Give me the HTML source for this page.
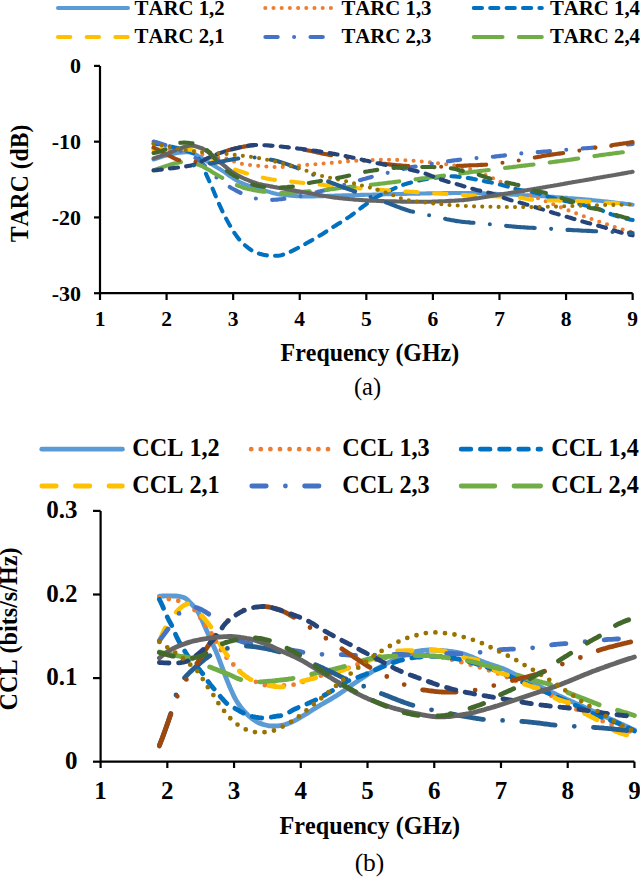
<!DOCTYPE html>
<html><head><meta charset="utf-8"><title>TARC / CCL</title>
<style>html,body{margin:0;padding:0;background:#fff;}body{width:640px;height:877px;overflow:hidden;font-family:"Liberation Serif",serif;}svg{display:block;}</style>
</head><body>
<svg width="640" height="877" viewBox="0 0 640 877">
<rect width="640" height="877" fill="#fff"/>
<g fill="none" stroke-linecap="round" stroke-linejoin="round">
<path d="M58.0 8.0 H128.0" stroke="#5B9BD5" stroke-width="4.10"/>
<path d="M265.3 8.0 H332.0" stroke="#ED7D31" stroke-width="4.10" stroke-dasharray="0 8.20"/>
<path d="M473.8 8.0 H541.8" stroke="#0070C0" stroke-width="4.10" stroke-dasharray="8.20 8.20"/>
<path d="M58.0 37.0 H128.0" stroke="#FFC000" stroke-width="4.10" stroke-dasharray="12.30 16.40"/>
<path d="M265.4 37.0 H332.0" stroke="#4472C4" stroke-width="4.10" stroke-dasharray="12.30 16.40 0 16.40"/>
<path d="M473.8 37.0 H541.8" stroke="#70AD47" stroke-width="4.10" stroke-dasharray="28.70 16.40"/>
<path d="M41.8 449.2 H122.4" stroke="#5B9BD5" stroke-width="4.80"/>
<path d="M251.2 449.2 H329.6" stroke="#ED7D31" stroke-width="4.80" stroke-dasharray="0 9.60"/>
<path d="M461.2 449.2 H540.6" stroke="#0070C0" stroke-width="4.80" stroke-dasharray="9.60 9.60"/>
<path d="M41.8 486.0 H122.4" stroke="#FFC000" stroke-width="4.80" stroke-dasharray="14.40 19.20"/>
<path d="M251.8 486.0 H328.6" stroke="#4472C4" stroke-width="4.80" stroke-dasharray="14.40 19.20 0 19.20"/>
<path d="M461.2 486.0 H540.6" stroke="#70AD47" stroke-width="4.80" stroke-dasharray="33.60 19.20"/>
</g>
<g fill="none" stroke="#000" stroke-width="2.2" stroke-linejoin="miter" stroke-linecap="butt"><path d="M100 65.9 V293.2 H632.6" /><path d="M94 65.90 H100"/><path d="M94 141.67 H100"/><path d="M94 217.44 H100"/><path d="M94 293.21 H100"/><path d="M100.00 293.2 V300"/><path d="M166.58 293.2 V300"/><path d="M233.16 293.2 V300"/><path d="M299.74 293.2 V300"/><path d="M366.32 293.2 V300"/><path d="M432.90 293.2 V300"/><path d="M499.48 293.2 V300"/><path d="M566.06 293.2 V300"/><path d="M632.64 293.2 V300"/><path d="M100.6 510.9 V761.7 H634.4" /><path d="M93 510.90 H100.6"/><path d="M93 594.50 H100.6"/><path d="M93 678.10 H100.6"/><path d="M93 761.70 H100.6"/><path d="M100.60 761.7 V768"/><path d="M167.33 761.7 V768"/><path d="M234.06 761.7 V768"/><path d="M300.79 761.7 V768"/><path d="M367.52 761.7 V768"/><path d="M434.25 761.7 V768"/><path d="M500.98 761.7 V768"/><path d="M567.71 761.7 V768"/><path d="M634.44 761.7 V768"/></g>
<g fill="none" stroke-linecap="round" stroke-linejoin="round">
<path d="M153.6 159.5 L155.1 159.0 L156.6 158.5 L158.1 158.0 L159.6 157.5 L161.1 157.0 L162.6 156.6 L164.1 156.1 L165.6 155.7 L167.1 155.3 L168.6 154.9 L170.1 154.5 L171.6 154.2 L173.1 153.9 L174.6 153.6 L176.1 153.3 L177.6 153.0 L179.1 152.8 L180.6 152.6 L182.1 152.5 L183.6 152.4 L185.1 152.3 L186.6 152.3 L188.1 152.3 L189.6 152.5 L191.1 152.7 L192.6 153.1 L194.1 153.7 L195.6 154.5 L197.1 155.3 L198.6 156.2 L200.1 157.0 L201.7 157.9 L203.2 158.8 L204.7 159.7 L206.2 160.7 L207.7 161.7 L209.2 162.7 L210.7 163.7 L212.2 164.6 L213.7 165.5 L215.2 166.4 L216.7 167.3 L218.2 168.2 L219.7 169.1 L221.2 170.0 L222.7 170.9 L224.2 171.9 L225.7 173.0 L227.2 174.1 L228.7 175.3 L230.2 176.4 L231.7 177.4 L233.2 178.4 L234.7 179.3 L236.2 180.2 L237.7 181.0 L239.2 181.8 L240.7 182.5 L242.2 183.2 L243.7 183.8 L245.2 184.4 L246.7 184.9 L248.2 185.4 L249.7 185.9 L251.2 186.4 L252.7 186.9 L254.2 187.3 L255.7 187.8 L257.2 188.2 L258.7 188.6 L260.2 189.1 L261.7 189.5 L263.2 190.0 L264.7 190.5 L266.2 191.0 L267.7 191.4 L269.2 191.9 L270.7 192.4 L272.2 192.8 L273.7 193.3 L275.2 193.6 L276.7 194.0 L278.2 194.2 L279.7 194.5 L281.2 194.6 L282.7 194.8 L284.2 195.0 L285.7 195.2 L287.2 195.3 L288.7 195.5 L290.2 195.6 L291.7 195.8 L293.2 195.9 L294.7 196.0 L296.2 196.1 L297.8 196.2 L299.3 196.3 L300.8 196.4 L302.3 196.5 L303.8 196.5 L305.3 196.5 L306.8 196.5 L308.3 196.5 L309.8 196.5 L311.3 196.5 L312.8 196.4 L314.3 196.4 L315.8 196.3 L317.3 196.3 L318.8 196.2 L320.3 196.2 L321.8 196.1 L323.3 196.1 L324.8 196.0 L326.3 196.0 L327.8 195.9 L329.3 195.8 L330.8 195.8 L332.3 195.7 L333.8 195.7 L335.3 195.6 L336.8 195.6 L338.3 195.5 L339.8 195.5 L341.3 195.5 L342.8 195.4 L344.3 195.4 L345.8 195.3 L347.3 195.3 L348.8 195.3 L350.3 195.2 L351.8 195.2 L353.3 195.1 L354.8 195.1 L356.3 195.1 L357.8 195.0 L359.3 195.0 L360.8 194.9 L362.3 194.9 L363.8 194.9 L365.3 194.8 L366.8 194.8 L368.3 194.8 L369.8 194.7 L371.3 194.7 L372.8 194.6 L374.3 194.6 L375.8 194.6 L377.3 194.5 L378.8 194.5 L380.3 194.5 L381.8 194.4 L383.3 194.4 L384.8 194.3 L386.3 194.3 L387.8 194.3 L389.3 194.2 L390.8 194.2 L392.3 194.2 L393.9 194.1 L395.4 194.1 L396.9 194.1 L398.4 194.0 L399.9 194.0 L401.4 194.0 L402.9 193.9 L404.4 193.9 L405.9 193.9 L407.4 193.8 L408.9 193.8 L410.4 193.8 L411.9 193.7 L413.4 193.7 L414.9 193.7 L416.4 193.6 L417.9 193.6 L419.4 193.6 L420.9 193.5 L422.4 193.5 L423.9 193.5 L425.4 193.5 L426.9 193.4 L428.4 193.4 L429.9 193.4 L431.4 193.3 L432.9 193.3 L434.4 193.3 L435.9 193.3 L437.4 193.2 L438.9 193.2 L440.4 193.2 L441.9 193.2 L443.4 193.1 L444.9 193.1 L446.4 193.1 L447.9 193.1 L449.4 193.1 L450.9 193.1 L452.4 193.0 L453.9 193.0 L455.4 193.0 L456.9 193.0 L458.4 193.0 L459.9 193.0 L461.4 193.0 L462.9 193.0 L464.4 193.0 L465.9 193.0 L467.4 193.0 L468.9 193.0 L470.4 193.1 L471.9 193.1 L473.4 193.1 L474.9 193.2 L476.4 193.2 L477.9 193.2 L479.4 193.3 L480.9 193.3 L482.4 193.4 L483.9 193.4 L485.4 193.5 L486.9 193.5 L488.4 193.6 L490.0 193.6 L491.5 193.7 L493.0 193.8 L494.5 193.8 L496.0 193.9 L497.5 194.0 L499.0 194.0 L500.5 194.1 L502.0 194.2 L503.5 194.2 L505.0 194.3 L506.5 194.4 L508.0 194.4 L509.5 194.5 L511.0 194.6 L512.5 194.7 L514.0 194.7 L515.5 194.8 L517.0 194.9 L518.5 194.9 L520.0 195.0 L521.5 195.1 L523.0 195.1 L524.5 195.2 L526.0 195.3 L527.5 195.4 L529.0 195.4 L530.5 195.5 L532.0 195.6 L533.5 195.7 L535.0 195.8 L536.5 195.9 L538.0 195.9 L539.5 196.0 L541.0 196.1 L542.5 196.2 L544.0 196.3 L545.5 196.4 L547.0 196.5 L548.5 196.6 L550.0 196.7 L551.5 196.8 L553.0 196.9 L554.5 197.0 L556.0 197.2 L557.5 197.3 L559.0 197.4 L560.5 197.5 L562.0 197.6 L563.5 197.7 L565.0 197.8 L566.5 197.9 L568.0 198.1 L569.5 198.2 L571.0 198.3 L572.5 198.4 L574.0 198.5 L575.5 198.6 L577.0 198.8 L578.5 198.9 L580.0 199.0 L581.5 199.1 L583.0 199.3 L584.5 199.4 L586.1 199.5 L587.6 199.6 L589.1 199.8 L590.6 199.9 L592.1 200.1 L593.6 200.2 L595.1 200.4 L596.6 200.5 L598.1 200.7 L599.6 200.8 L601.1 201.0 L602.6 201.2 L604.1 201.3 L605.6 201.5 L607.1 201.6 L608.6 201.8 L610.1 202.0 L611.6 202.2 L613.1 202.3 L614.6 202.5 L616.1 202.7 L617.6 202.9 L619.1 203.0 L620.6 203.2 L622.1 203.4 L623.6 203.6 L625.1 203.8 L626.6 204.0 L628.1 204.1 L629.6 204.3 L631.1 204.5 L632.6 204.7" stroke="#5B9BD5" stroke-width="4.10"/>
<path d="M153.6 148.5 L155.1 148.5 L156.6 148.6 L158.1 148.7 L159.6 148.8 L161.1 148.9 L162.6 149.0 L164.1 149.1 L165.6 149.2 L167.1 149.3 L168.6 149.4 L170.1 149.6 L171.6 149.7 L173.1 149.8 L174.6 150.0 L176.1 150.1 L177.6 150.2 L179.1 150.4 L180.6 150.6 L182.1 150.7 L183.6 150.9 L185.1 151.1 L186.6 151.3 L188.1 151.6 L189.6 151.8 L191.1 152.0 L192.6 152.3 L194.1 152.5 L195.6 152.8 L197.1 153.0 L198.6 153.3 L200.1 153.7 L201.7 154.1 L203.2 154.6 L204.7 155.0 L206.2 155.5 L207.7 155.9 L209.2 156.3 L210.7 156.7 L212.2 157.0 L213.7 157.3 L215.2 157.4 L216.7 157.5 L218.2 157.6 L219.7 157.6 L221.2 157.7 L222.7 157.8 L224.2 158.0 L225.7 158.4 L227.2 158.8 L228.7 159.3 L230.2 159.9 L231.7 160.5 L233.2 161.2 L234.7 161.8 L236.2 162.4 L237.7 162.9 L239.2 163.3 L240.7 163.6 L242.2 163.9 L243.7 164.1 L245.2 164.4 L246.7 164.6 L248.2 164.8 L249.7 165.0 L251.2 165.2 L252.7 165.4 L254.2 165.5 L255.7 165.7 L257.2 165.8 L258.7 165.9 L260.2 166.0 L261.7 166.1 L263.2 166.2 L264.7 166.4 L266.2 166.5 L267.7 166.6 L269.2 166.7 L270.7 166.8 L272.2 166.9 L273.7 166.9 L275.2 167.0 L276.7 167.0 L278.2 167.0 L279.7 167.0 L281.2 167.0 L282.7 166.9 L284.2 166.8 L285.7 166.7 L287.2 166.6 L288.7 166.5 L290.2 166.4 L291.7 166.2 L293.2 166.1 L294.7 166.0 L296.2 165.8 L297.8 165.7 L299.3 165.6 L300.8 165.4 L302.3 165.3 L303.8 165.2 L305.3 165.1 L306.8 164.9 L308.3 164.8 L309.8 164.7 L311.3 164.6 L312.8 164.4 L314.3 164.3 L315.8 164.2 L317.3 164.1 L318.8 163.9 L320.3 163.8 L321.8 163.7 L323.3 163.6 L324.8 163.4 L326.3 163.3 L327.8 163.2 L329.3 163.1 L330.8 162.9 L332.3 162.8 L333.8 162.7 L335.3 162.5 L336.8 162.4 L338.3 162.3 L339.8 162.1 L341.3 162.0 L342.8 161.8 L344.3 161.7 L345.8 161.6 L347.3 161.4 L348.8 161.3 L350.3 161.2 L351.8 161.1 L353.3 160.9 L354.8 160.8 L356.3 160.7 L357.8 160.6 L359.3 160.5 L360.8 160.5 L362.3 160.4 L363.8 160.3 L365.3 160.2 L366.8 160.2 L368.3 160.1 L369.8 160.1 L371.3 160.0 L372.8 160.0 L374.3 159.9 L375.8 159.9 L377.3 159.9 L378.8 159.8 L380.3 159.8 L381.8 159.8 L383.3 159.8 L384.8 159.8 L386.3 159.8 L387.8 159.8 L389.3 159.8 L390.8 159.8 L392.3 159.8 L393.9 159.9 L395.4 159.9 L396.9 159.9 L398.4 160.0 L399.9 160.0 L401.4 160.0 L402.9 160.1 L404.4 160.2 L405.9 160.2 L407.4 160.3 L408.9 160.4 L410.4 160.5 L411.9 160.6 L413.4 160.8 L414.9 160.9 L416.4 161.0 L417.9 161.2 L419.4 161.3 L420.9 161.5 L422.4 161.6 L423.9 161.8 L425.4 161.9 L426.9 162.1 L428.4 162.3 L429.9 162.4 L431.4 162.6 L432.9 162.7 L434.4 162.9 L435.9 163.1 L437.4 163.2 L438.9 163.4 L440.4 163.5 L441.9 163.7 L443.4 163.9 L444.9 164.1 L446.4 164.2 L447.9 164.5 L449.4 164.7 L450.9 164.9 L452.4 165.1 L453.9 165.4 L455.4 165.6 L456.9 165.9 L458.4 166.2 L459.9 166.5 L461.4 166.8 L462.9 167.2 L464.4 167.5 L465.9 168.0 L467.4 168.4 L468.9 168.9 L470.4 169.4 L471.9 169.9 L473.4 170.4 L474.9 171.0 L476.4 171.5 L477.9 172.1 L479.4 172.7 L480.9 173.3 L482.4 173.9 L483.9 174.5 L485.4 175.1 L486.9 175.8 L488.4 176.4 L490.0 177.0 L491.5 177.6 L493.0 178.2 L494.5 178.9 L496.0 179.6 L497.5 180.3 L499.0 181.0 L500.5 181.7 L502.0 182.4 L503.5 183.2 L505.0 183.9 L506.5 184.6 L508.0 185.4 L509.5 186.1 L511.0 186.8 L512.5 187.6 L514.0 188.3 L515.5 189.0 L517.0 189.7 L518.5 190.3 L520.0 191.0 L521.5 191.6 L523.0 192.3 L524.5 192.9 L526.0 193.5 L527.5 194.1 L529.0 194.7 L530.5 195.3 L532.0 195.9 L533.5 196.5 L535.0 197.1 L536.5 197.7 L538.0 198.3 L539.5 198.9 L541.0 199.5 L542.5 200.1 L544.0 200.7 L545.5 201.2 L547.0 201.8 L548.5 202.4 L550.0 203.0 L551.5 203.6 L553.0 204.2 L554.5 204.8 L556.0 205.4 L557.5 206.0 L559.0 206.6 L560.5 207.2 L562.0 207.8 L563.5 208.4 L565.0 209.0 L566.5 209.6 L568.0 210.2 L569.5 210.8 L571.0 211.3 L572.5 211.9 L574.0 212.5 L575.5 213.1 L577.0 213.7 L578.5 214.3 L580.0 214.8 L581.5 215.4 L583.0 216.0 L584.5 216.5 L586.1 217.1 L587.6 217.6 L589.1 218.2 L590.6 218.7 L592.1 219.2 L593.6 219.8 L595.1 220.3 L596.6 220.8 L598.1 221.3 L599.6 221.9 L601.1 222.4 L602.6 222.9 L604.1 223.4 L605.6 223.9 L607.1 224.4 L608.6 224.9 L610.1 225.4 L611.6 225.9 L613.1 226.4 L614.6 226.9 L616.1 227.4 L617.6 227.9 L619.1 228.4 L620.6 228.8 L622.1 229.3 L623.6 229.8 L625.1 230.2 L626.6 230.7 L628.1 231.2 L629.6 231.6 L631.1 232.1 L632.6 232.5" stroke="#ED7D31" stroke-width="4.10" stroke-dasharray="0 8.20"/>
<path d="M153.6 143.5 L155.1 143.7 L156.6 143.9 L158.1 144.1 L159.6 144.3 L161.1 144.6 L162.6 144.9 L164.1 145.2 L165.6 145.5 L167.1 145.8 L168.6 146.1 L170.1 146.5 L171.6 146.8 L173.1 147.1 L174.6 147.4 L176.1 147.7 L177.6 148.1 L179.1 148.4 L180.6 148.8 L182.1 149.3 L183.6 149.7 L185.1 150.2 L186.6 150.7 L188.1 151.2 L189.6 151.7 L191.1 152.3 L192.6 152.9 L194.1 153.6 L195.6 154.8 L197.1 156.5 L198.6 158.4 L200.1 160.7 L201.7 163.2 L203.2 166.7 L204.7 170.6 L206.2 174.4 L207.7 177.7 L209.2 181.0 L210.7 184.3 L212.2 187.7 L213.7 191.2 L215.2 194.9 L216.7 198.5 L218.2 202.1 L219.7 205.4 L221.2 208.7 L222.7 211.8 L224.2 214.8 L225.7 217.8 L227.2 220.6 L228.7 223.4 L230.2 226.1 L231.7 228.7 L233.2 231.1 L234.7 233.3 L236.2 235.4 L237.7 237.4 L239.2 239.4 L240.7 241.2 L242.2 242.8 L243.7 244.2 L245.2 245.5 L246.7 246.7 L248.2 247.9 L249.7 249.0 L251.2 250.1 L252.7 251.0 L254.2 251.9 L255.7 252.6 L257.2 253.1 L258.7 253.5 L260.2 253.9 L261.7 254.3 L263.2 254.7 L264.7 255.0 L266.2 255.3 L267.7 255.5 L269.2 255.6 L270.7 255.7 L272.2 255.8 L273.7 255.8 L275.2 255.8 L276.7 255.8 L278.2 255.7 L279.7 255.5 L281.2 255.2 L282.7 254.8 L284.2 254.2 L285.7 253.7 L287.2 253.0 L288.7 252.4 L290.2 251.8 L291.7 251.1 L293.2 250.4 L294.7 249.6 L296.2 248.8 L297.8 248.0 L299.3 247.2 L300.8 246.3 L302.3 245.5 L303.8 244.7 L305.3 243.9 L306.8 243.0 L308.3 242.2 L309.8 241.4 L311.3 240.6 L312.8 239.7 L314.3 238.9 L315.8 238.0 L317.3 237.1 L318.8 236.2 L320.3 235.3 L321.8 234.4 L323.3 233.5 L324.8 232.5 L326.3 231.5 L327.8 230.6 L329.3 229.6 L330.8 228.6 L332.3 227.6 L333.8 226.6 L335.3 225.7 L336.8 224.7 L338.3 223.8 L339.8 222.9 L341.3 222.0 L342.8 221.0 L344.3 220.1 L345.8 219.1 L347.3 218.1 L348.8 217.1 L350.3 216.1 L351.8 215.0 L353.3 213.9 L354.8 212.7 L356.3 211.6 L357.8 210.4 L359.3 209.3 L360.8 208.1 L362.3 207.0 L363.8 205.9 L365.3 204.8 L366.8 203.6 L368.3 202.5 L369.8 201.4 L371.3 200.4 L372.8 199.3 L374.3 198.4 L375.8 197.5 L377.3 196.7 L378.8 195.9 L380.3 195.1 L381.8 194.4 L383.3 193.6 L384.8 192.9 L386.3 192.2 L387.8 191.5 L389.3 190.8 L390.8 190.1 L392.3 189.4 L393.9 188.7 L395.4 188.0 L396.9 187.3 L398.4 186.6 L399.9 186.0 L401.4 185.4 L402.9 184.9 L404.4 184.4 L405.9 183.9 L407.4 183.5 L408.9 183.1 L410.4 182.7 L411.9 182.3 L413.4 181.9 L414.9 181.5 L416.4 181.1 L417.9 180.8 L419.4 180.4 L420.9 180.1 L422.4 179.8 L423.9 179.5 L425.4 179.2 L426.9 179.0 L428.4 178.7 L429.9 178.5 L431.4 178.3 L432.9 178.1 L434.4 177.9 L435.9 177.7 L437.4 177.5 L438.9 177.2 L440.4 177.1 L441.9 176.9 L443.4 176.7 L444.9 176.6 L446.4 176.5 L447.9 176.4 L449.4 176.3 L450.9 176.3 L452.4 176.3 L453.9 176.4 L455.4 176.4 L456.9 176.6 L458.4 176.7 L459.9 176.9 L461.4 177.1 L462.9 177.3 L464.4 177.5 L465.9 177.7 L467.4 177.9 L468.9 178.1 L470.4 178.4 L471.9 178.6 L473.4 178.9 L474.9 179.2 L476.4 179.5 L477.9 179.8 L479.4 180.1 L480.9 180.4 L482.4 180.8 L483.9 181.1 L485.4 181.4 L486.9 181.7 L488.4 182.0 L490.0 182.3 L491.5 182.6 L493.0 182.9 L494.5 183.3 L496.0 183.6 L497.5 183.9 L499.0 184.3 L500.5 184.6 L502.0 185.0 L503.5 185.4 L505.0 185.8 L506.5 186.2 L508.0 186.7 L509.5 187.1 L511.0 187.6 L512.5 188.0 L514.0 188.4 L515.5 188.9 L517.0 189.3 L518.5 189.6 L520.0 189.9 L521.5 190.2 L523.0 190.5 L524.5 190.7 L526.0 190.9 L527.5 191.1 L529.0 191.4 L530.5 191.6 L532.0 191.9 L533.5 192.2 L535.0 192.5 L536.5 192.9 L538.0 193.3 L539.5 193.8 L541.0 194.3 L542.5 194.8 L544.0 195.3 L545.5 195.8 L547.0 196.3 L548.5 196.8 L550.0 197.2 L551.5 197.6 L553.0 198.1 L554.5 198.4 L556.0 198.8 L557.5 199.2 L559.0 199.6 L560.5 199.9 L562.0 200.3 L563.5 200.6 L565.0 200.9 L566.5 201.3 L568.0 201.6 L569.5 201.9 L571.0 202.2 L572.5 202.5 L574.0 202.8 L575.5 203.2 L577.0 203.5 L578.5 203.8 L580.0 204.1 L581.5 204.5 L583.0 204.8 L584.5 205.2 L586.1 205.5 L587.6 205.9 L589.1 206.3 L590.6 206.7 L592.1 207.1 L593.6 207.5 L595.1 207.9 L596.6 208.4 L598.1 208.8 L599.6 209.4 L601.1 210.0 L602.6 210.6 L604.1 211.3 L605.6 211.9 L607.1 212.6 L608.6 213.2 L610.1 213.8 L611.6 214.4 L613.1 214.8 L614.6 215.3 L616.1 215.8 L617.6 216.3 L619.1 216.7 L620.6 217.1 L622.1 217.6 L623.6 218.0 L625.1 218.4 L626.6 218.7 L628.1 219.1 L629.6 219.4 L631.1 219.7 L632.6 220.0" stroke="#0070C0" stroke-width="4.10" stroke-dasharray="8.20 8.20"/>
<path d="M153.6 150.0 L155.1 149.8 L156.6 149.7 L158.1 149.6 L159.6 149.5 L161.1 149.3 L162.6 149.2 L164.1 149.2 L165.6 149.1 L167.1 149.0 L168.6 149.0 L170.1 148.9 L171.6 148.9 L173.1 148.9 L174.6 148.8 L176.1 148.8 L177.6 148.9 L179.1 148.9 L180.6 148.9 L182.1 149.0 L183.6 149.0 L185.1 149.1 L186.6 149.3 L188.1 149.5 L189.6 149.7 L191.1 150.0 L192.6 150.4 L194.1 150.7 L195.6 151.1 L197.1 151.5 L198.6 152.1 L200.1 152.7 L201.7 153.4 L203.2 154.2 L204.7 155.0 L206.2 155.8 L207.7 156.7 L209.2 157.5 L210.7 158.3 L212.2 159.1 L213.7 159.8 L215.2 160.5 L216.7 161.2 L218.2 162.0 L219.7 162.7 L221.2 163.4 L222.7 164.1 L224.2 164.8 L225.7 165.5 L227.2 166.2 L228.7 166.9 L230.2 167.5 L231.7 168.2 L233.2 168.8 L234.7 169.4 L236.2 169.9 L237.7 170.5 L239.2 171.0 L240.7 171.5 L242.2 172.0 L243.7 172.5 L245.2 173.0 L246.7 173.4 L248.2 173.9 L249.7 174.3 L251.2 174.7 L252.7 175.2 L254.2 175.6 L255.7 176.0 L257.2 176.4 L258.7 176.7 L260.2 177.1 L261.7 177.4 L263.2 177.8 L264.7 178.1 L266.2 178.4 L267.7 178.7 L269.2 178.9 L270.7 179.2 L272.2 179.5 L273.7 179.7 L275.2 179.9 L276.7 180.1 L278.2 180.3 L279.7 180.4 L281.2 180.6 L282.7 180.8 L284.2 180.9 L285.7 181.1 L287.2 181.2 L288.7 181.4 L290.2 181.5 L291.7 181.7 L293.2 181.8 L294.7 182.0 L296.2 182.2 L297.8 182.3 L299.3 182.5 L300.8 182.7 L302.3 182.8 L303.8 183.0 L305.3 183.1 L306.8 183.3 L308.3 183.4 L309.8 183.6 L311.3 183.7 L312.8 183.9 L314.3 184.0 L315.8 184.2 L317.3 184.3 L318.8 184.5 L320.3 184.6 L321.8 184.8 L323.3 184.9 L324.8 185.1 L326.3 185.2 L327.8 185.4 L329.3 185.5 L330.8 185.7 L332.3 185.8 L333.8 186.0 L335.3 186.1 L336.8 186.3 L338.3 186.4 L339.8 186.6 L341.3 186.7 L342.8 186.9 L344.3 187.0 L345.8 187.2 L347.3 187.3 L348.8 187.5 L350.3 187.6 L351.8 187.8 L353.3 187.9 L354.8 188.1 L356.3 188.2 L357.8 188.3 L359.3 188.4 L360.8 188.6 L362.3 188.7 L363.8 188.8 L365.3 188.9 L366.8 189.0 L368.3 189.1 L369.8 189.2 L371.3 189.3 L372.8 189.4 L374.3 189.5 L375.8 189.6 L377.3 189.7 L378.8 189.8 L380.3 189.9 L381.8 190.0 L383.3 190.1 L384.8 190.2 L386.3 190.3 L387.8 190.4 L389.3 190.5 L390.8 190.5 L392.3 190.6 L393.9 190.7 L395.4 190.8 L396.9 190.9 L398.4 191.0 L399.9 191.1 L401.4 191.2 L402.9 191.3 L404.4 191.4 L405.9 191.5 L407.4 191.5 L408.9 191.6 L410.4 191.7 L411.9 191.8 L413.4 191.9 L414.9 192.0 L416.4 192.1 L417.9 192.2 L419.4 192.3 L420.9 192.3 L422.4 192.4 L423.9 192.5 L425.4 192.6 L426.9 192.7 L428.4 192.8 L429.9 192.9 L431.4 193.0 L432.9 193.1 L434.4 193.2 L435.9 193.2 L437.4 193.3 L438.9 193.4 L440.4 193.5 L441.9 193.6 L443.4 193.7 L444.9 193.8 L446.4 193.9 L447.9 194.0 L449.4 194.1 L450.9 194.2 L452.4 194.3 L453.9 194.4 L455.4 194.5 L456.9 194.6 L458.4 194.7 L459.9 194.8 L461.4 194.9 L462.9 195.0 L464.4 195.1 L465.9 195.1 L467.4 195.2 L468.9 195.3 L470.4 195.3 L471.9 195.4 L473.4 195.5 L474.9 195.5 L476.4 195.6 L477.9 195.6 L479.4 195.7 L480.9 195.8 L482.4 195.8 L483.9 195.9 L485.4 195.9 L486.9 196.0 L488.4 196.0 L490.0 196.1 L491.5 196.1 L493.0 196.2 L494.5 196.3 L496.0 196.3 L497.5 196.4 L499.0 196.4 L500.5 196.5 L502.0 196.6 L503.5 196.6 L505.0 196.7 L506.5 196.8 L508.0 196.9 L509.5 196.9 L511.0 197.0 L512.5 197.1 L514.0 197.2 L515.5 197.3 L517.0 197.4 L518.5 197.5 L520.0 197.7 L521.5 197.9 L523.0 198.2 L524.5 198.5 L526.0 198.8 L527.5 199.1 L529.0 199.4 L530.5 199.6 L532.0 199.8 L533.5 200.0 L535.0 200.1 L536.5 200.1 L538.0 200.2 L539.5 200.3 L541.0 200.3 L542.5 200.4 L544.0 200.4 L545.5 200.4 L547.0 200.5 L548.5 200.5 L550.0 200.5 L551.5 200.5 L553.0 200.5 L554.5 200.5 L556.0 200.5 L557.5 200.5 L559.0 200.6 L560.5 200.6 L562.0 200.6 L563.5 200.6 L565.0 200.6 L566.5 200.6 L568.0 200.6 L569.5 200.7 L571.0 200.7 L572.5 200.7 L574.0 200.8 L575.5 200.8 L577.0 200.9 L578.5 200.9 L580.0 201.0 L581.5 201.1 L583.0 201.2 L584.5 201.3 L586.1 201.4 L587.6 201.5 L589.1 201.6 L590.6 201.7 L592.1 201.8 L593.6 201.9 L595.1 202.0 L596.6 202.1 L598.1 202.2 L599.6 202.4 L601.1 202.5 L602.6 202.6 L604.1 202.7 L605.6 202.7 L607.1 202.8 L608.6 202.9 L610.1 203.0 L611.6 203.0 L613.1 203.1 L614.6 203.1 L616.1 203.2 L617.6 203.2 L619.1 203.3 L620.6 203.3 L622.1 203.4 L623.6 203.4 L625.1 203.4 L626.6 203.4 L628.1 203.5 L629.6 203.5 L631.1 203.5 L632.6 203.5" stroke="#FFC000" stroke-width="4.10" stroke-dasharray="12.30 16.40"/>
<path d="M153.6 141.5 L155.1 141.9 L156.6 142.3 L158.1 142.7 L159.6 143.2 L161.1 143.6 L162.6 144.1 L164.1 144.6 L165.6 145.1 L167.1 145.7 L168.6 146.2 L170.1 146.8 L171.6 147.4 L173.1 147.9 L174.6 148.5 L176.1 149.1 L177.6 149.7 L179.1 150.3 L180.6 150.9 L182.1 151.4 L183.6 152.1 L185.1 152.7 L186.6 153.4 L188.1 154.0 L189.6 154.8 L191.1 155.6 L192.6 156.4 L194.1 157.2 L195.6 158.1 L197.1 159.1 L198.6 160.2 L200.1 161.4 L201.7 162.7 L203.2 164.2 L204.7 165.7 L206.2 167.2 L207.7 168.8 L209.2 170.4 L210.7 172.0 L212.2 173.5 L213.7 175.0 L215.2 176.3 L216.7 177.6 L218.2 178.8 L219.7 179.9 L221.2 181.1 L222.7 182.2 L224.2 183.3 L225.7 184.3 L227.2 185.4 L228.7 186.3 L230.2 187.3 L231.7 188.2 L233.2 189.0 L234.7 189.8 L236.2 190.6 L237.7 191.4 L239.2 192.1 L240.7 192.9 L242.2 193.6 L243.7 194.4 L245.2 195.1 L246.7 195.7 L248.2 196.4 L249.7 196.9 L251.2 197.4 L252.7 197.9 L254.2 198.2 L255.7 198.5 L257.2 198.8 L258.7 199.0 L260.2 199.2 L261.7 199.5 L263.2 199.7 L264.7 199.8 L266.2 199.9 L267.7 200.0 L269.2 200.0 L270.7 200.0 L272.2 199.9 L273.7 199.8 L275.2 199.7 L276.7 199.6 L278.2 199.5 L279.7 199.3 L281.2 199.2 L282.7 199.0 L284.2 198.8 L285.7 198.7 L287.2 198.5 L288.7 198.3 L290.2 198.0 L291.7 197.8 L293.2 197.5 L294.7 197.3 L296.2 197.0 L297.8 196.7 L299.3 196.4 L300.8 196.1 L302.3 195.8 L303.8 195.4 L305.3 195.0 L306.8 194.6 L308.3 194.2 L309.8 193.8 L311.3 193.4 L312.8 193.1 L314.3 192.7 L315.8 192.3 L317.3 192.0 L318.8 191.6 L320.3 191.3 L321.8 190.9 L323.3 190.6 L324.8 190.3 L326.3 189.9 L327.8 189.6 L329.3 189.2 L330.8 188.8 L332.3 188.4 L333.8 188.0 L335.3 187.6 L336.8 187.1 L338.3 186.7 L339.8 186.3 L341.3 185.8 L342.8 185.4 L344.3 184.9 L345.8 184.5 L347.3 184.0 L348.8 183.5 L350.3 183.1 L351.8 182.6 L353.3 182.2 L354.8 181.7 L356.3 181.3 L357.8 180.8 L359.3 180.4 L360.8 179.9 L362.3 179.5 L363.8 179.1 L365.3 178.7 L366.8 178.2 L368.3 177.8 L369.8 177.4 L371.3 177.0 L372.8 176.6 L374.3 176.2 L375.8 175.8 L377.3 175.5 L378.8 175.1 L380.3 174.7 L381.8 174.3 L383.3 173.9 L384.8 173.5 L386.3 173.2 L387.8 172.8 L389.3 172.4 L390.8 172.0 L392.3 171.7 L393.9 171.3 L395.4 170.9 L396.9 170.5 L398.4 170.1 L399.9 169.8 L401.4 169.4 L402.9 169.1 L404.4 168.7 L405.9 168.4 L407.4 168.0 L408.9 167.7 L410.4 167.4 L411.9 167.1 L413.4 166.8 L414.9 166.6 L416.4 166.3 L417.9 166.0 L419.4 165.7 L420.9 165.5 L422.4 165.2 L423.9 165.0 L425.4 164.7 L426.9 164.5 L428.4 164.3 L429.9 164.0 L431.4 163.8 L432.9 163.5 L434.4 163.3 L435.9 163.1 L437.4 162.8 L438.9 162.6 L440.4 162.4 L441.9 162.2 L443.4 161.9 L444.9 161.7 L446.4 161.5 L447.9 161.3 L449.4 161.1 L450.9 160.9 L452.4 160.6 L453.9 160.4 L455.4 160.3 L456.9 160.1 L458.4 159.9 L459.9 159.7 L461.4 159.5 L462.9 159.4 L464.4 159.2 L465.9 159.1 L467.4 158.9 L468.9 158.8 L470.4 158.6 L471.9 158.5 L473.4 158.4 L474.9 158.3 L476.4 158.1 L477.9 158.0 L479.4 157.9 L480.9 157.8 L482.4 157.6 L483.9 157.5 L485.4 157.4 L486.9 157.2 L488.4 157.1 L490.0 157.0 L491.5 156.9 L493.0 156.7 L494.5 156.6 L496.0 156.4 L497.5 156.3 L499.0 156.1 L500.5 155.9 L502.0 155.8 L503.5 155.6 L505.0 155.4 L506.5 155.2 L508.0 155.0 L509.5 154.8 L511.0 154.6 L512.5 154.4 L514.0 154.2 L515.5 154.0 L517.0 153.8 L518.5 153.7 L520.0 153.5 L521.5 153.4 L523.0 153.2 L524.5 153.1 L526.0 153.0 L527.5 152.9 L529.0 152.8 L530.5 152.7 L532.0 152.5 L533.5 152.4 L535.0 152.3 L536.5 152.2 L538.0 152.1 L539.5 152.0 L541.0 151.9 L542.5 151.8 L544.0 151.6 L545.5 151.5 L547.0 151.4 L548.5 151.2 L550.0 151.1 L551.5 151.0 L553.0 150.8 L554.5 150.7 L556.0 150.6 L557.5 150.4 L559.0 150.3 L560.5 150.2 L562.0 150.0 L563.5 149.9 L565.0 149.8 L566.5 149.7 L568.0 149.6 L569.5 149.4 L571.0 149.3 L572.5 149.2 L574.0 149.1 L575.5 149.0 L577.0 148.9 L578.5 148.8 L580.0 148.7 L581.5 148.6 L583.0 148.4 L584.5 148.3 L586.1 148.2 L587.6 148.1 L589.1 148.0 L590.6 147.9 L592.1 147.7 L593.6 147.6 L595.1 147.5 L596.6 147.3 L598.1 147.2 L599.6 147.1 L601.1 147.0 L602.6 146.8 L604.1 146.7 L605.6 146.6 L607.1 146.4 L608.6 146.3 L610.1 146.1 L611.6 146.0 L613.1 145.9 L614.6 145.7 L616.1 145.6 L617.6 145.4 L619.1 145.3 L620.6 145.2 L622.1 145.0 L623.6 144.9 L625.1 144.7 L626.6 144.6 L628.1 144.4 L629.6 144.3 L631.1 144.1 L632.6 144.0" stroke="#4472C4" stroke-width="4.10" stroke-dasharray="12.30 16.40 0 16.40"/>
<path d="M153.6 170.5 L155.1 169.9 L156.6 169.2 L158.1 168.7 L159.6 168.1 L161.1 167.6 L162.6 167.1 L164.1 166.6 L165.6 166.1 L167.1 165.6 L168.6 165.2 L170.1 164.7 L171.6 164.2 L173.1 163.8 L174.6 163.4 L176.1 163.1 L177.6 162.7 L179.1 162.4 L180.6 162.2 L182.1 162.0 L183.6 161.9 L185.1 161.8 L186.6 161.9 L188.1 162.0 L189.6 162.2 L191.1 162.5 L192.6 162.9 L194.1 163.3 L195.6 163.7 L197.1 164.2 L198.6 164.7 L200.1 165.4 L201.7 166.0 L203.2 166.8 L204.7 167.6 L206.2 168.4 L207.7 169.2 L209.2 170.1 L210.7 171.0 L212.2 172.0 L213.7 172.9 L215.2 173.8 L216.7 174.7 L218.2 175.6 L219.7 176.5 L221.2 177.3 L222.7 178.1 L224.2 178.9 L225.7 179.7 L227.2 180.5 L228.7 181.3 L230.2 182.1 L231.7 182.9 L233.2 183.6 L234.7 184.2 L236.2 184.9 L237.7 185.5 L239.2 186.1 L240.7 186.6 L242.2 187.2 L243.7 187.7 L245.2 188.2 L246.7 188.6 L248.2 189.0 L249.7 189.3 L251.2 189.6 L252.7 189.9 L254.2 190.2 L255.7 190.5 L257.2 190.7 L258.7 190.9 L260.2 191.2 L261.7 191.4 L263.2 191.6 L264.7 191.8 L266.2 191.9 L267.7 192.1 L269.2 192.3 L270.7 192.4 L272.2 192.6 L273.7 192.8 L275.2 192.9 L276.7 193.0 L278.2 193.1 L279.7 193.1 L281.2 193.1 L282.7 193.1 L284.2 193.0 L285.7 193.0 L287.2 192.9 L288.7 192.8 L290.2 192.7 L291.7 192.6 L293.2 192.6 L294.7 192.4 L296.2 192.3 L297.8 192.2 L299.3 192.1 L300.8 192.0 L302.3 191.9 L303.8 191.7 L305.3 191.6 L306.8 191.5 L308.3 191.4 L309.8 191.3 L311.3 191.2 L312.8 191.0 L314.3 190.9 L315.8 190.8 L317.3 190.7 L318.8 190.5 L320.3 190.4 L321.8 190.2 L323.3 190.1 L324.8 190.0 L326.3 189.8 L327.8 189.6 L329.3 189.5 L330.8 189.3 L332.3 189.1 L333.8 188.9 L335.3 188.7 L336.8 188.4 L338.3 188.2 L339.8 188.0 L341.3 187.8 L342.8 187.7 L344.3 187.5 L345.8 187.3 L347.3 187.2 L348.8 187.0 L350.3 186.8 L351.8 186.7 L353.3 186.5 L354.8 186.4 L356.3 186.2 L357.8 186.1 L359.3 185.9 L360.8 185.8 L362.3 185.6 L363.8 185.5 L365.3 185.3 L366.8 185.2 L368.3 185.0 L369.8 184.9 L371.3 184.7 L372.8 184.5 L374.3 184.4 L375.8 184.2 L377.3 184.1 L378.8 183.9 L380.3 183.7 L381.8 183.5 L383.3 183.4 L384.8 183.2 L386.3 183.0 L387.8 182.8 L389.3 182.6 L390.8 182.5 L392.3 182.3 L393.9 182.1 L395.4 181.9 L396.9 181.7 L398.4 181.5 L399.9 181.3 L401.4 181.1 L402.9 180.9 L404.4 180.8 L405.9 180.6 L407.4 180.4 L408.9 180.2 L410.4 180.0 L411.9 179.8 L413.4 179.6 L414.9 179.4 L416.4 179.2 L417.9 179.0 L419.4 178.8 L420.9 178.6 L422.4 178.4 L423.9 178.2 L425.4 178.1 L426.9 177.9 L428.4 177.7 L429.9 177.5 L431.4 177.3 L432.9 177.1 L434.4 176.9 L435.9 176.7 L437.4 176.5 L438.9 176.3 L440.4 176.1 L441.9 175.9 L443.4 175.7 L444.9 175.5 L446.4 175.3 L447.9 175.1 L449.4 174.9 L450.9 174.7 L452.4 174.5 L453.9 174.3 L455.4 174.1 L456.9 173.9 L458.4 173.7 L459.9 173.5 L461.4 173.3 L462.9 173.1 L464.4 172.9 L465.9 172.8 L467.4 172.6 L468.9 172.4 L470.4 172.2 L471.9 172.0 L473.4 171.8 L474.9 171.6 L476.4 171.5 L477.9 171.3 L479.4 171.1 L480.9 170.9 L482.4 170.7 L483.9 170.5 L485.4 170.4 L486.9 170.2 L488.4 170.0 L490.0 169.8 L491.5 169.6 L493.0 169.4 L494.5 169.3 L496.0 169.1 L497.5 168.9 L499.0 168.7 L500.5 168.5 L502.0 168.3 L503.5 168.2 L505.0 168.0 L506.5 167.8 L508.0 167.6 L509.5 167.4 L511.0 167.2 L512.5 167.1 L514.0 166.9 L515.5 166.7 L517.0 166.5 L518.5 166.3 L520.0 166.1 L521.5 165.9 L523.0 165.8 L524.5 165.6 L526.0 165.4 L527.5 165.2 L529.0 165.0 L530.5 164.8 L532.0 164.7 L533.5 164.5 L535.0 164.3 L536.5 164.1 L538.0 163.9 L539.5 163.7 L541.0 163.5 L542.5 163.3 L544.0 163.2 L545.5 163.0 L547.0 162.8 L548.5 162.6 L550.0 162.4 L551.5 162.2 L553.0 162.0 L554.5 161.8 L556.0 161.6 L557.5 161.4 L559.0 161.2 L560.5 161.0 L562.0 160.8 L563.5 160.6 L565.0 160.4 L566.5 160.2 L568.0 160.0 L569.5 159.8 L571.0 159.6 L572.5 159.4 L574.0 159.1 L575.5 158.9 L577.0 158.7 L578.5 158.5 L580.0 158.3 L581.5 158.0 L583.0 157.8 L584.5 157.6 L586.1 157.4 L587.6 157.1 L589.1 156.9 L590.6 156.7 L592.1 156.5 L593.6 156.2 L595.1 156.0 L596.6 155.8 L598.1 155.6 L599.6 155.3 L601.1 155.1 L602.6 154.9 L604.1 154.7 L605.6 154.5 L607.1 154.3 L608.6 154.1 L610.1 153.9 L611.6 153.7 L613.1 153.5 L614.6 153.3 L616.1 153.1 L617.6 152.9 L619.1 152.7 L620.6 152.5 L622.1 152.3 L623.6 152.1 L625.1 151.9 L626.6 151.7 L628.1 151.5 L629.6 151.4 L631.1 151.2 L632.6 151.0" stroke="#70AD47" stroke-width="4.10" stroke-dasharray="28.70 16.40"/>
<path d="M153.6 147.5 L155.1 148.3 L156.6 149.1 L158.1 149.9 L159.6 150.7 L161.1 151.5 L162.6 152.3 L164.1 153.1 L165.6 153.8 L167.1 154.6 L168.6 155.3 L170.1 156.2 L171.6 156.9 L173.1 157.7 L174.6 158.5 L176.1 159.1 L177.6 159.7 L179.1 160.3 L180.6 160.7 L182.1 161.0 L183.6 161.3 L185.1 161.6 L186.6 161.8 L188.1 162.0 L189.6 162.1 L191.1 162.1 L192.6 162.1 L194.1 162.1 L195.6 161.9 L197.1 161.7 L198.6 161.4 L200.1 161.0 L201.7 160.6 L203.2 160.1 L204.7 159.6 L206.2 159.1 L207.7 158.4 L209.2 157.7 L210.7 157.0 L212.2 156.2 L213.7 155.5 L215.2 154.8 L216.7 154.3 L218.2 153.7 L219.7 153.1 L221.2 152.6 L222.7 152.1 L224.2 151.6 L225.7 151.1 L227.2 150.6 L228.7 150.1 L230.2 149.7 L231.7 149.3 L233.2 148.9 L234.7 148.6 L236.2 148.2 L237.7 147.9 L239.2 147.6 L240.7 147.3 L242.2 146.9 L243.7 146.6 L245.2 146.4 L246.7 146.1 L248.2 145.9 L249.7 145.7 L251.2 145.5 L252.7 145.4 L254.2 145.3 L255.7 145.3 L257.2 145.3 L258.7 145.3 L260.2 145.3 L261.7 145.3 L263.2 145.4 L264.7 145.4 L266.2 145.5 L267.7 145.5 L269.2 145.6 L270.7 145.7 L272.2 145.8 L273.7 145.9 L275.2 146.0 L276.7 146.2 L278.2 146.3 L279.7 146.4 L281.2 146.6 L282.7 146.8 L284.2 146.9 L285.7 147.1 L287.2 147.3 L288.7 147.5 L290.2 147.6 L291.7 147.8 L293.2 148.0 L294.7 148.2 L296.2 148.5 L297.8 148.7 L299.3 148.9 L300.8 149.1 L302.3 149.4 L303.8 149.6 L305.3 149.9 L306.8 150.2 L308.3 150.5 L309.8 150.8 L311.3 151.1 L312.8 151.4 L314.3 151.7 L315.8 152.0 L317.3 152.4 L318.8 152.7 L320.3 153.0 L321.8 153.4 L323.3 153.7 L324.8 154.0 L326.3 154.3 L327.8 154.6 L329.3 154.9 L330.8 155.1 L332.3 155.4 L333.8 155.7 L335.3 155.9 L336.8 156.2 L338.3 156.5 L339.8 156.7 L341.3 157.0 L342.8 157.2 L344.3 157.5 L345.8 157.7 L347.3 158.0 L348.8 158.2 L350.3 158.5 L351.8 158.7 L353.3 159.0 L354.8 159.2 L356.3 159.4 L357.8 159.7 L359.3 159.9 L360.8 160.1 L362.3 160.4 L363.8 160.6 L365.3 160.8 L366.8 161.1 L368.3 161.3 L369.8 161.6 L371.3 161.8 L372.8 162.1 L374.3 162.3 L375.8 162.5 L377.3 162.8 L378.8 163.0 L380.3 163.2 L381.8 163.5 L383.3 163.7 L384.8 163.9 L386.3 164.1 L387.8 164.3 L389.3 164.4 L390.8 164.6 L392.3 164.8 L393.9 164.9 L395.4 165.0 L396.9 165.2 L398.4 165.3 L399.9 165.4 L401.4 165.5 L402.9 165.7 L404.4 165.8 L405.9 165.9 L407.4 166.0 L408.9 166.1 L410.4 166.2 L411.9 166.3 L413.4 166.4 L414.9 166.5 L416.4 166.6 L417.9 166.7 L419.4 166.8 L420.9 166.9 L422.4 166.9 L423.9 167.0 L425.4 167.0 L426.9 167.0 L428.4 167.1 L429.9 167.1 L431.4 167.1 L432.9 167.1 L434.4 167.0 L435.9 167.0 L437.4 167.0 L438.9 166.9 L440.4 166.8 L441.9 166.8 L443.4 166.7 L444.9 166.6 L446.4 166.5 L447.9 166.4 L449.4 166.3 L450.9 166.2 L452.4 166.1 L453.9 166.1 L455.4 166.0 L456.9 165.9 L458.4 165.8 L459.9 165.8 L461.4 165.7 L462.9 165.7 L464.4 165.6 L465.9 165.6 L467.4 165.5 L468.9 165.4 L470.4 165.4 L471.9 165.3 L473.4 165.3 L474.9 165.2 L476.4 165.2 L477.9 165.1 L479.4 165.0 L480.9 164.9 L482.4 164.9 L483.9 164.8 L485.4 164.7 L486.9 164.6 L488.4 164.4 L490.0 164.3 L491.5 164.1 L493.0 163.9 L494.5 163.7 L496.0 163.5 L497.5 163.3 L499.0 163.1 L500.5 162.9 L502.0 162.8 L503.5 162.6 L505.0 162.4 L506.5 162.2 L508.0 162.1 L509.5 161.9 L511.0 161.7 L512.5 161.5 L514.0 161.3 L515.5 161.1 L517.0 160.9 L518.5 160.6 L520.0 160.4 L521.5 160.1 L523.0 159.8 L524.5 159.6 L526.0 159.3 L527.5 159.0 L529.0 158.7 L530.5 158.4 L532.0 158.1 L533.5 157.8 L535.0 157.5 L536.5 157.2 L538.0 156.9 L539.5 156.7 L541.0 156.4 L542.5 156.1 L544.0 155.8 L545.5 155.6 L547.0 155.3 L548.5 155.1 L550.0 154.9 L551.5 154.6 L553.0 154.4 L554.5 154.2 L556.0 154.0 L557.5 153.8 L559.0 153.6 L560.5 153.4 L562.0 153.2 L563.5 153.0 L565.0 152.8 L566.5 152.6 L568.0 152.4 L569.5 152.1 L571.0 151.9 L572.5 151.7 L574.0 151.5 L575.5 151.2 L577.0 151.0 L578.5 150.7 L580.0 150.5 L581.5 150.2 L583.0 149.9 L584.5 149.6 L586.1 149.3 L587.6 149.0 L589.1 148.7 L590.6 148.4 L592.1 148.2 L593.6 147.9 L595.1 147.7 L596.6 147.4 L598.1 147.2 L599.6 147.0 L601.1 146.7 L602.6 146.5 L604.1 146.3 L605.6 146.1 L607.1 145.9 L608.6 145.7 L610.1 145.5 L611.6 145.2 L613.1 145.0 L614.6 144.8 L616.1 144.6 L617.6 144.4 L619.1 144.1 L620.6 143.9 L622.1 143.7 L623.6 143.4 L625.1 143.2 L626.6 143.0 L628.1 142.7 L629.6 142.5 L631.1 142.2 L632.6 142.0" stroke="#9E480E" stroke-width="4.10" stroke-dasharray="28.70 16.40 0 16.40 0 16.40"/>
<path d="M153.6 170.3 L155.1 170.2 L156.6 170.1 L158.1 169.9 L159.6 169.8 L161.1 169.6 L162.6 169.4 L164.1 169.3 L165.6 169.1 L167.1 168.9 L168.6 168.7 L170.1 168.5 L171.6 168.3 L173.1 168.1 L174.6 167.9 L176.1 167.7 L177.6 167.5 L179.1 167.4 L180.6 167.2 L182.1 167.0 L183.6 166.7 L185.1 166.5 L186.6 166.3 L188.1 166.0 L189.6 165.7 L191.1 165.4 L192.6 165.1 L194.1 164.7 L195.6 164.3 L197.1 163.7 L198.6 163.0 L200.1 162.2 L201.7 161.3 L203.2 160.5 L204.7 159.7 L206.2 158.9 L207.7 158.2 L209.2 157.5 L210.7 156.8 L212.2 156.1 L213.7 155.4 L215.2 154.8 L216.7 154.3 L218.2 153.7 L219.7 153.1 L221.2 152.6 L222.7 152.1 L224.2 151.6 L225.7 151.1 L227.2 150.6 L228.7 150.2 L230.2 149.7 L231.7 149.3 L233.2 148.9 L234.7 148.6 L236.2 148.2 L237.7 147.9 L239.2 147.5 L240.7 147.2 L242.2 146.8 L243.7 146.5 L245.2 146.2 L246.7 145.9 L248.2 145.7 L249.7 145.4 L251.2 145.2 L252.7 145.1 L254.2 145.0 L255.7 145.0 L257.2 145.0 L258.7 145.0 L260.2 145.1 L261.7 145.1 L263.2 145.2 L264.7 145.2 L266.2 145.3 L267.7 145.4 L269.2 145.5 L270.7 145.6 L272.2 145.7 L273.7 145.8 L275.2 146.0 L276.7 146.1 L278.2 146.2 L279.7 146.4 L281.2 146.5 L282.7 146.7 L284.2 146.9 L285.7 147.0 L287.2 147.2 L288.7 147.4 L290.2 147.6 L291.7 147.7 L293.2 147.9 L294.7 148.1 L296.2 148.3 L297.8 148.5 L299.3 148.7 L300.8 148.8 L302.3 149.0 L303.8 149.2 L305.3 149.4 L306.8 149.6 L308.3 149.8 L309.8 150.0 L311.3 150.3 L312.8 150.5 L314.3 150.7 L315.8 150.9 L317.3 151.1 L318.8 151.4 L320.3 151.6 L321.8 151.8 L323.3 152.1 L324.8 152.3 L326.3 152.6 L327.8 152.8 L329.3 153.1 L330.8 153.3 L332.3 153.6 L333.8 153.9 L335.3 154.1 L336.8 154.4 L338.3 154.7 L339.8 155.0 L341.3 155.2 L342.8 155.5 L344.3 155.8 L345.8 156.1 L347.3 156.4 L348.8 156.8 L350.3 157.1 L351.8 157.4 L353.3 157.7 L354.8 158.1 L356.3 158.4 L357.8 158.7 L359.3 159.1 L360.8 159.4 L362.3 159.8 L363.8 160.1 L365.3 160.5 L366.8 160.8 L368.3 161.1 L369.8 161.5 L371.3 161.8 L372.8 162.2 L374.3 162.5 L375.8 162.8 L377.3 163.2 L378.8 163.5 L380.3 163.8 L381.8 164.1 L383.3 164.4 L384.8 164.8 L386.3 165.0 L387.8 165.3 L389.3 165.6 L390.8 165.9 L392.3 166.2 L393.9 166.5 L395.4 166.8 L396.9 167.0 L398.4 167.3 L399.9 167.6 L401.4 167.9 L402.9 168.2 L404.4 168.5 L405.9 168.8 L407.4 169.1 L408.9 169.4 L410.4 169.7 L411.9 170.1 L413.4 170.4 L414.9 170.7 L416.4 171.1 L417.9 171.5 L419.4 171.8 L420.9 172.2 L422.4 172.7 L423.9 173.1 L425.4 173.6 L426.9 174.2 L428.4 174.7 L429.9 175.3 L431.4 175.9 L432.9 176.4 L434.4 177.0 L435.9 177.6 L437.4 178.2 L438.9 178.7 L440.4 179.3 L441.9 179.8 L443.4 180.3 L444.9 180.8 L446.4 181.2 L447.9 181.7 L449.4 182.1 L450.9 182.5 L452.4 182.9 L453.9 183.3 L455.4 183.8 L456.9 184.2 L458.4 184.6 L459.9 185.1 L461.4 185.5 L462.9 186.0 L464.4 186.4 L465.9 186.9 L467.4 187.3 L468.9 187.8 L470.4 188.2 L471.9 188.6 L473.4 189.1 L474.9 189.5 L476.4 189.9 L477.9 190.3 L479.4 190.6 L480.9 191.0 L482.4 191.3 L483.9 191.7 L485.4 192.0 L486.9 192.4 L488.4 192.7 L490.0 193.1 L491.5 193.5 L493.0 194.0 L494.5 194.5 L496.0 195.0 L497.5 195.6 L499.0 196.1 L500.5 196.7 L502.0 197.2 L503.5 197.8 L505.0 198.3 L506.5 198.8 L508.0 199.3 L509.5 199.7 L511.0 200.2 L512.5 200.6 L514.0 201.0 L515.5 201.4 L517.0 201.8 L518.5 202.2 L520.0 202.6 L521.5 203.1 L523.0 203.5 L524.5 203.9 L526.0 204.4 L527.5 204.8 L529.0 205.3 L530.5 205.7 L532.0 206.2 L533.5 206.6 L535.0 207.1 L536.5 207.5 L538.0 208.0 L539.5 208.5 L541.0 208.9 L542.5 209.4 L544.0 209.9 L545.5 210.4 L547.0 210.8 L548.5 211.3 L550.0 211.8 L551.5 212.2 L553.0 212.7 L554.5 213.2 L556.0 213.6 L557.5 214.1 L559.0 214.5 L560.5 214.9 L562.0 215.4 L563.5 215.8 L565.0 216.2 L566.5 216.7 L568.0 217.1 L569.5 217.6 L571.0 218.0 L572.5 218.5 L574.0 218.9 L575.5 219.4 L577.0 219.8 L578.5 220.3 L580.0 220.7 L581.5 221.2 L583.0 221.6 L584.5 222.1 L586.1 222.5 L587.6 222.9 L589.1 223.3 L590.6 223.7 L592.1 224.1 L593.6 224.5 L595.1 224.9 L596.6 225.3 L598.1 225.7 L599.6 226.1 L601.1 226.5 L602.6 226.9 L604.1 227.3 L605.6 227.8 L607.1 228.3 L608.6 228.7 L610.1 229.2 L611.6 229.7 L613.1 230.2 L614.6 230.7 L616.1 231.1 L617.6 231.6 L619.1 232.0 L620.6 232.4 L622.1 232.8 L623.6 233.2 L625.1 233.6 L626.6 233.9 L628.1 234.3 L629.6 234.7 L631.1 235.0 L632.6 235.3" stroke="#264478" stroke-width="4.10" stroke-dasharray="8.20 8.20"/>
<path d="M153.6 158.4 L155.1 157.9 L156.6 157.4 L158.1 156.9 L159.6 156.4 L161.1 155.9 L162.6 155.4 L164.1 154.8 L165.6 154.3 L167.1 153.7 L168.6 153.1 L170.1 152.5 L171.6 151.8 L173.1 151.2 L174.6 150.6 L176.1 149.9 L177.6 149.4 L179.1 148.8 L180.6 148.3 L182.1 147.8 L183.6 147.3 L185.1 146.8 L186.6 146.4 L188.1 146.1 L189.6 145.8 L191.1 145.7 L192.6 145.8 L194.1 146.0 L195.6 146.3 L197.1 146.7 L198.6 147.2 L200.1 147.7 L201.7 148.2 L203.2 148.9 L204.7 149.8 L206.2 150.7 L207.7 151.7 L209.2 152.9 L210.7 154.0 L212.2 155.1 L213.7 156.3 L215.2 157.6 L216.7 159.0 L218.2 160.4 L219.7 161.8 L221.2 163.1 L222.7 164.4 L224.2 165.6 L225.7 166.9 L227.2 168.1 L228.7 169.3 L230.2 170.5 L231.7 171.6 L233.2 172.6 L234.7 173.6 L236.2 174.5 L237.7 175.3 L239.2 176.2 L240.7 176.9 L242.2 177.7 L243.7 178.4 L245.2 179.0 L246.7 179.6 L248.2 180.2 L249.7 180.8 L251.2 181.4 L252.7 182.0 L254.2 182.5 L255.7 183.0 L257.2 183.5 L258.7 183.9 L260.2 184.2 L261.7 184.6 L263.2 184.9 L264.7 185.2 L266.2 185.5 L267.7 185.8 L269.2 186.1 L270.7 186.4 L272.2 186.6 L273.7 186.9 L275.2 187.2 L276.7 187.4 L278.2 187.7 L279.7 188.0 L281.2 188.2 L282.7 188.5 L284.2 188.8 L285.7 189.0 L287.2 189.3 L288.7 189.6 L290.2 189.8 L291.7 190.1 L293.2 190.4 L294.7 190.6 L296.2 190.9 L297.8 191.2 L299.3 191.4 L300.8 191.7 L302.3 192.0 L303.8 192.2 L305.3 192.5 L306.8 192.7 L308.3 193.0 L309.8 193.3 L311.3 193.5 L312.8 193.8 L314.3 194.1 L315.8 194.3 L317.3 194.6 L318.8 194.9 L320.3 195.2 L321.8 195.4 L323.3 195.7 L324.8 196.0 L326.3 196.2 L327.8 196.5 L329.3 196.7 L330.8 197.0 L332.3 197.2 L333.8 197.4 L335.3 197.6 L336.8 197.8 L338.3 198.0 L339.8 198.2 L341.3 198.3 L342.8 198.5 L344.3 198.6 L345.8 198.8 L347.3 198.9 L348.8 199.0 L350.3 199.2 L351.8 199.3 L353.3 199.4 L354.8 199.6 L356.3 199.7 L357.8 199.8 L359.3 199.9 L360.8 200.0 L362.3 200.1 L363.8 200.2 L365.3 200.3 L366.8 200.4 L368.3 200.5 L369.8 200.6 L371.3 200.6 L372.8 200.7 L374.3 200.8 L375.8 200.8 L377.3 200.9 L378.8 201.0 L380.3 201.0 L381.8 201.1 L383.3 201.1 L384.8 201.2 L386.3 201.2 L387.8 201.2 L389.3 201.3 L390.8 201.3 L392.3 201.4 L393.9 201.4 L395.4 201.4 L396.9 201.5 L398.4 201.5 L399.9 201.5 L401.4 201.6 L402.9 201.6 L404.4 201.6 L405.9 201.7 L407.4 201.7 L408.9 201.7 L410.4 201.7 L411.9 201.7 L413.4 201.8 L414.9 201.8 L416.4 201.8 L417.9 201.8 L419.4 201.8 L420.9 201.8 L422.4 201.8 L423.9 201.8 L425.4 201.8 L426.9 201.8 L428.4 201.7 L429.9 201.7 L431.4 201.7 L432.9 201.6 L434.4 201.6 L435.9 201.5 L437.4 201.5 L438.9 201.4 L440.4 201.4 L441.9 201.3 L443.4 201.2 L444.9 201.2 L446.4 201.1 L447.9 201.0 L449.4 200.9 L450.9 200.9 L452.4 200.8 L453.9 200.7 L455.4 200.6 L456.9 200.5 L458.4 200.4 L459.9 200.3 L461.4 200.2 L462.9 200.1 L464.4 199.9 L465.9 199.8 L467.4 199.6 L468.9 199.4 L470.4 199.2 L471.9 199.0 L473.4 198.8 L474.9 198.6 L476.4 198.4 L477.9 198.2 L479.4 197.9 L480.9 197.7 L482.4 197.4 L483.9 197.2 L485.4 196.9 L486.9 196.7 L488.4 196.4 L490.0 196.2 L491.5 195.9 L493.0 195.6 L494.5 195.4 L496.0 195.1 L497.5 194.9 L499.0 194.7 L500.5 194.4 L502.0 194.2 L503.5 194.0 L505.0 193.7 L506.5 193.5 L508.0 193.3 L509.5 193.0 L511.0 192.8 L512.5 192.5 L514.0 192.3 L515.5 192.1 L517.0 191.8 L518.5 191.6 L520.0 191.3 L521.5 191.1 L523.0 190.8 L524.5 190.6 L526.0 190.3 L527.5 190.1 L529.0 189.8 L530.5 189.6 L532.0 189.3 L533.5 189.1 L535.0 188.8 L536.5 188.6 L538.0 188.3 L539.5 188.1 L541.0 187.8 L542.5 187.6 L544.0 187.3 L545.5 187.1 L547.0 186.8 L548.5 186.5 L550.0 186.3 L551.5 186.0 L553.0 185.8 L554.5 185.5 L556.0 185.2 L557.5 185.0 L559.0 184.7 L560.5 184.4 L562.0 184.2 L563.5 183.9 L565.0 183.6 L566.5 183.4 L568.0 183.1 L569.5 182.8 L571.0 182.6 L572.5 182.3 L574.0 182.0 L575.5 181.8 L577.0 181.5 L578.5 181.3 L580.0 181.0 L581.5 180.7 L583.0 180.5 L584.5 180.2 L586.1 179.9 L587.6 179.7 L589.1 179.4 L590.6 179.2 L592.1 178.9 L593.6 178.6 L595.1 178.4 L596.6 178.1 L598.1 177.8 L599.6 177.6 L601.1 177.3 L602.6 177.1 L604.1 176.8 L605.6 176.5 L607.1 176.3 L608.6 176.0 L610.1 175.7 L611.6 175.5 L613.1 175.2 L614.6 175.0 L616.1 174.7 L617.6 174.4 L619.1 174.2 L620.6 173.9 L622.1 173.6 L623.6 173.4 L625.1 173.1 L626.6 172.9 L628.1 172.6 L629.6 172.3 L631.1 172.1 L632.6 171.8" stroke="#656565" stroke-width="4.10"/>
<path d="M190.0 165.6 L191.5 165.5 L193.0 165.4 L194.5 165.3 L196.0 165.2 L197.5 165.0 L199.0 164.9 L200.5 164.7 L202.0 164.5 L203.5 164.3 L205.0 164.2 L206.5 164.0 L208.0 163.8 L209.5 163.6 L211.0 163.4 L212.5 163.1 L214.0 162.9 L215.5 162.6 L217.0 162.4 L218.5 162.1 L220.0 161.8 L221.5 161.5 L223.0 161.2 L224.5 160.9 L226.0 160.6 L227.5 160.3 L229.0 160.0 L230.5 159.7 L232.0 159.4 L233.5 159.1 L235.0 158.9 L236.5 158.7 L238.0 158.5 L239.5 158.3 L241.0 158.2 L242.5 158.0 L244.0 157.9 L245.5 157.8 L247.0 157.7 L248.5 157.6 L250.0 157.6 L251.5 157.5 L253.0 157.5 L254.5 157.5 L256.0 157.6 L257.5 157.6 L259.0 157.8 L260.5 158.0 L262.0 158.1 L263.5 158.4 L265.0 158.6 L266.5 158.9 L268.0 159.1 L269.5 159.4 L271.0 159.7 L272.5 160.0 L274.0 160.3 L275.5 160.7 L277.0 161.1 L278.5 161.5 L280.0 161.9 L281.5 162.4 L283.0 162.9 L284.5 163.4 L286.0 163.9 L287.5 164.4 L289.0 164.9 L290.5 165.5 L292.0 166.0 L293.5 166.6 L295.0 167.1 L296.5 167.7 L298.0 168.3 L299.5 168.8 L301.0 169.4 L302.5 170.0 L304.0 170.6 L305.5 171.3 L307.0 171.9 L308.5 172.6 L310.0 173.3 L311.5 174.0 L313.0 174.7 L314.5 175.4 L316.0 176.1 L317.5 176.8 L319.0 177.5 L320.5 178.2 L322.0 178.9 L323.5 179.5 L325.0 180.2 L326.5 180.8 L328.0 181.4 L329.5 182.0 L331.0 182.6 L332.5 183.2 L334.0 183.8 L335.5 184.3 L337.0 184.9 L338.5 185.5 L340.0 186.0 L341.5 186.6 L343.0 187.2 L344.5 187.7 L346.0 188.3 L347.5 188.8 L349.0 189.3 L350.5 189.9 L352.0 190.4 L353.5 191.0 L355.0 191.5 L356.5 192.1 L358.0 192.6 L359.5 193.1 L361.0 193.7 L362.5 194.2 L364.0 194.7 L365.5 195.2 L367.0 195.7 L368.5 196.3 L370.0 196.8 L371.5 197.3 L373.0 197.8 L374.5 198.3 L376.0 198.9 L377.5 199.4 L379.0 199.9 L380.5 200.4 L382.0 201.0 L383.5 201.5 L385.0 202.0 L386.5 202.6 L388.0 203.1 L389.5 203.7 L391.0 204.3 L392.5 204.8 L394.0 205.4 L395.5 206.0 L397.0 206.6 L398.5 207.1 L400.0 207.7 L401.5 208.3 L403.0 208.8 L404.5 209.3 L406.0 209.8 L407.5 210.3 L409.0 210.7 L410.5 211.2 L412.1 211.5 L413.6 211.9 L415.1 212.3 L416.6 212.6 L418.1 212.9 L419.6 213.3 L421.1 213.6 L422.6 213.9 L424.1 214.2 L425.6 214.5 L427.1 214.8 L428.6 215.1 L430.1 215.4 L431.6 215.8 L433.1 216.1 L434.6 216.4 L436.1 216.8 L437.6 217.1 L439.1 217.5 L440.6 217.8 L442.1 218.2 L443.6 218.5 L445.1 218.8 L446.6 219.2 L448.1 219.5 L449.6 219.8 L451.1 220.1 L452.6 220.3 L454.1 220.6 L455.6 220.9 L457.1 221.1 L458.6 221.3 L460.1 221.5 L461.6 221.7 L463.1 221.9 L464.6 222.0 L466.1 222.2 L467.6 222.3 L469.1 222.4 L470.6 222.6 L472.1 222.7 L473.6 222.8 L475.1 222.9 L476.6 223.1 L478.1 223.2 L479.6 223.3 L481.1 223.4 L482.6 223.5 L484.1 223.7 L485.6 223.8 L487.1 223.9 L488.6 224.1 L490.1 224.2 L491.6 224.3 L493.1 224.5 L494.6 224.7 L496.1 224.8 L497.6 225.0 L499.1 225.1 L500.6 225.3 L502.1 225.4 L503.6 225.6 L505.1 225.7 L506.6 225.9 L508.1 226.0 L509.6 226.2 L511.1 226.3 L512.6 226.5 L514.1 226.6 L515.6 226.7 L517.1 226.9 L518.6 227.0 L520.1 227.1 L521.6 227.2 L523.1 227.3 L524.6 227.4 L526.1 227.5 L527.6 227.6 L529.1 227.7 L530.6 227.7 L532.1 227.8 L533.6 227.9 L535.1 228.0 L536.6 228.1 L538.1 228.2 L539.6 228.2 L541.1 228.3 L542.6 228.4 L544.1 228.5 L545.6 228.6 L547.1 228.6 L548.6 228.7 L550.1 228.8 L551.6 228.9 L553.1 229.0 L554.6 229.1 L556.1 229.2 L557.6 229.2 L559.1 229.3 L560.6 229.4 L562.1 229.5 L563.6 229.6 L565.1 229.7 L566.6 229.8 L568.1 229.9 L569.6 229.9 L571.1 230.0 L572.6 230.1 L574.1 230.2 L575.6 230.3 L577.1 230.3 L578.6 230.4 L580.1 230.5 L581.6 230.6 L583.1 230.7 L584.6 230.7 L586.1 230.8 L587.6 230.9 L589.1 230.9 L590.6 231.0 L592.1 231.1 L593.6 231.2 L595.1 231.2 L596.6 231.3 L598.1 231.4 L599.6 231.4 L601.1 231.5 L602.6 231.6 L604.1 231.6 L605.6 231.7 L607.1 231.8 L608.6 231.8 L610.1 231.9 L611.6 232.0 L613.1 232.1 L614.6 232.1 L616.1 232.2 L617.6 232.3 L619.1 232.3 L620.6 232.4 L622.1 232.5 L623.6 232.6 L625.1 232.6 L626.6 232.7 L628.1 232.8 L629.6 232.9 L631.1 232.9 L632.6 233.0" stroke="#255E91" stroke-width="4.10" stroke-dasharray="28.70 16.40 0 16.40" stroke-dashoffset="41.35"/>
<path d="M153.6 144.0 L155.1 144.2 L156.6 144.4 L158.1 144.6 L159.6 144.9 L161.1 145.1 L162.6 145.4 L164.1 145.6 L165.6 145.9 L167.1 146.2 L168.6 146.4 L170.1 146.7 L171.6 147.0 L173.1 147.4 L174.6 147.7 L176.1 148.1 L177.6 148.5 L179.1 148.9 L180.6 149.2 L182.1 149.6 L183.6 149.9 L185.1 150.1 L186.6 150.4 L188.1 150.6 L189.6 150.8 L191.1 150.9 L192.6 151.1 L194.1 151.3 L195.6 151.4 L197.1 151.6 L198.6 151.7 L200.1 151.8 L201.7 152.0 L203.2 152.1 L204.7 152.2 L206.2 152.4 L207.7 152.5 L209.2 152.6 L210.7 152.7 L212.2 152.8 L213.7 152.9 L215.2 153.0 L216.7 153.2 L218.2 153.3 L219.7 153.4 L221.2 153.5 L222.7 153.6 L224.2 153.8 L225.7 153.9 L227.2 154.0 L228.7 154.2 L230.2 154.4 L231.7 154.5 L233.2 154.7 L234.7 154.9 L236.2 155.0 L237.7 155.2 L239.2 155.4 L240.7 155.6 L242.2 155.8 L243.7 155.9 L245.2 156.1 L246.7 156.3 L248.2 156.5 L249.7 156.7 L251.2 156.9 L252.7 157.1 L254.2 157.4 L255.7 157.6 L257.2 157.8 L258.7 158.1 L260.2 158.3 L261.7 158.6 L263.2 158.9 L264.7 159.2 L266.2 159.5 L267.7 159.8 L269.2 160.2 L270.7 160.5 L272.2 160.8 L273.7 161.2 L275.2 161.6 L276.7 161.9 L278.2 162.3 L279.7 162.7 L281.2 163.1 L282.7 163.5 L284.2 163.9 L285.7 164.3 L287.2 164.7 L288.7 165.1 L290.2 165.6 L291.7 166.0 L293.2 166.4 L294.7 166.9 L296.2 167.3 L297.8 167.8 L299.3 168.3 L300.8 168.7 L302.3 169.2 L303.8 169.8 L305.3 170.3 L306.8 170.9 L308.3 171.4 L309.8 172.0 L311.3 172.6 L312.8 173.1 L314.3 173.7 L315.8 174.2 L317.3 174.7 L318.8 175.1 L320.3 175.6 L321.8 176.0 L323.3 176.3 L324.8 176.7 L326.3 177.0 L327.8 177.4 L329.3 177.7 L330.8 178.0 L332.3 178.3 L333.8 178.6 L335.3 178.9 L336.8 179.2 L338.3 179.5 L339.8 179.8 L341.3 180.1 L342.8 180.5 L344.3 180.8 L345.8 181.2 L347.3 181.6 L348.8 182.0 L350.3 182.4 L351.8 182.8 L353.3 183.2 L354.8 183.6 L356.3 184.0 L357.8 184.4 L359.3 184.8 L360.8 185.2 L362.3 185.6 L363.8 186.0 L365.3 186.4 L366.8 186.8 L368.3 187.2 L369.8 187.6 L371.3 188.0 L372.8 188.4 L374.3 188.8 L375.8 189.2 L377.3 189.7 L378.8 190.2 L380.3 190.7 L381.8 191.2 L383.3 191.7 L384.8 192.2 L386.3 192.7 L387.8 193.2 L389.3 193.8 L390.8 194.3 L392.3 194.9 L393.9 195.5 L395.4 196.1 L396.9 196.7 L398.4 197.3 L399.9 197.9 L401.4 198.5 L402.9 198.9 L404.4 199.4 L405.9 199.7 L407.4 200.0 L408.9 200.3 L410.4 200.5 L411.9 200.8 L413.4 201.0 L414.9 201.3 L416.4 201.5 L417.9 201.7 L419.4 201.8 L420.9 202.0 L422.4 202.2 L423.9 202.4 L425.4 202.5 L426.9 202.7 L428.4 202.9 L429.9 203.0 L431.4 203.2 L432.9 203.4 L434.4 203.6 L435.9 203.7 L437.4 203.9 L438.9 204.0 L440.4 204.2 L441.9 204.3 L443.4 204.5 L444.9 204.6 L446.4 204.7 L447.9 204.9 L449.4 205.0 L450.9 205.1 L452.4 205.2 L453.9 205.3 L455.4 205.3 L456.9 205.4 L458.4 205.5 L459.9 205.6 L461.4 205.7 L462.9 205.8 L464.4 205.9 L465.9 206.0 L467.4 206.0 L468.9 206.1 L470.4 206.2 L471.9 206.2 L473.4 206.3 L474.9 206.4 L476.4 206.4 L477.9 206.5 L479.4 206.5 L480.9 206.5 L482.4 206.6 L483.9 206.6 L485.4 206.6 L486.9 206.6 L488.4 206.7 L490.0 206.7 L491.5 206.7 L493.0 206.8 L494.5 206.8 L496.0 206.8 L497.5 206.8 L499.0 206.9 L500.5 206.9 L502.0 206.9 L503.5 206.9 L505.0 207.0 L506.5 207.0 L508.0 207.0 L509.5 207.0 L511.0 207.1 L512.5 207.1 L514.0 207.1 L515.5 207.1 L517.0 207.1 L518.5 207.1 L520.0 207.1 L521.5 207.1 L523.0 207.1 L524.5 207.1 L526.0 207.1 L527.5 207.1 L529.0 207.1 L530.5 207.1 L532.0 207.1 L533.5 207.1 L535.0 207.1 L536.5 207.1 L538.0 207.0 L539.5 207.0 L541.0 207.0 L542.5 207.0 L544.0 206.9 L545.5 206.9 L547.0 206.8 L548.5 206.8 L550.0 206.8 L551.5 206.7 L553.0 206.7 L554.5 206.6 L556.0 206.6 L557.5 206.5 L559.0 206.5 L560.5 206.4 L562.0 206.3 L563.5 206.3 L565.0 206.2 L566.5 206.2 L568.0 206.1 L569.5 206.1 L571.0 206.0 L572.5 206.0 L574.0 205.9 L575.5 205.9 L577.0 205.8 L578.5 205.7 L580.0 205.7 L581.5 205.7 L583.0 205.6 L584.5 205.6 L586.1 205.5 L587.6 205.5 L589.1 205.4 L590.6 205.4 L592.1 205.4 L593.6 205.3 L595.1 205.3 L596.6 205.3 L598.1 205.2 L599.6 205.2 L601.1 205.1 L602.6 205.1 L604.1 205.1 L605.6 205.0 L607.1 205.0 L608.6 205.0 L610.1 204.9 L611.6 204.9 L613.1 204.9 L614.6 204.8 L616.1 204.8 L617.6 204.8 L619.1 204.7 L620.6 204.7 L622.1 204.7 L623.6 204.7 L625.1 204.6 L626.6 204.6 L628.1 204.6 L629.6 204.5 L631.1 204.5 L632.6 204.5" stroke="#997300" stroke-width="4.10" stroke-dasharray="0 8.20"/>
<path d="M153.6 153.0 L155.1 152.7 L156.6 152.4 L158.1 152.0 L159.6 151.5 L161.1 151.0 L162.6 150.5 L164.1 150.0 L165.6 149.5 L167.1 148.9 L168.6 148.2 L170.1 147.4 L171.6 146.6 L173.1 145.7 L174.6 144.9 L176.1 144.2 L177.6 143.6 L179.1 143.1 L180.6 142.8 L182.1 142.7 L183.6 142.6 L185.1 142.6 L186.6 142.7 L188.1 142.8 L189.6 143.0 L191.1 143.2 L192.6 143.4 L194.1 143.7 L195.6 144.0 L197.1 144.4 L198.6 144.9 L200.1 145.5 L201.7 146.3 L203.2 147.1 L204.7 148.1 L206.2 149.4 L207.7 150.8 L209.2 152.3 L210.7 154.0 L212.2 155.7 L213.7 157.4 L215.2 159.0 L216.7 160.6 L218.2 162.1 L219.7 163.7 L221.2 165.3 L222.7 166.9 L224.2 168.4 L225.7 169.8 L227.2 171.1 L228.7 172.2 L230.2 173.2 L231.7 174.2 L233.2 175.1 L234.7 175.9 L236.2 176.7 L237.7 177.5 L239.2 178.3 L240.7 179.2 L242.2 180.0 L243.7 180.8 L245.2 181.6 L246.7 182.4 L248.2 183.0 L249.7 183.7 L251.2 184.2 L252.7 184.6 L254.2 185.0 L255.7 185.3 L257.2 185.7 L258.7 186.0 L260.2 186.3 L261.7 186.5 L263.2 186.7 L264.7 186.9 L266.2 187.0 L267.7 187.1 L269.2 187.2 L270.7 187.3 L272.2 187.4 L273.7 187.4 L275.2 187.5 L276.7 187.5 L278.2 187.5 L279.7 187.5 L281.2 187.5 L282.7 187.4 L284.2 187.3 L285.7 187.2 L287.2 187.1 L288.7 186.9 L290.2 186.7 L291.7 186.6 L293.2 186.4 L294.7 186.1 L296.2 185.9 L297.8 185.6 L299.3 185.3 L300.8 184.9 L302.3 184.5 L303.8 184.2 L305.3 183.8 L306.8 183.5 L308.3 183.1 L309.8 182.9 L311.3 182.6 L312.8 182.3 L314.3 182.0 L315.8 181.8 L317.3 181.5 L318.8 181.3 L320.3 181.0 L321.8 180.7 L323.3 180.5 L324.8 180.2 L326.3 179.9 L327.8 179.7 L329.3 179.4 L330.8 179.2 L332.3 178.9 L333.8 178.6 L335.3 178.4 L336.8 178.1 L338.3 177.8 L339.8 177.5 L341.3 177.2 L342.8 176.9 L344.3 176.6 L345.8 176.3 L347.3 175.9 L348.8 175.6 L350.3 175.2 L351.8 174.9 L353.3 174.5 L354.8 174.2 L356.3 173.8 L357.8 173.5 L359.3 173.1 L360.8 172.8 L362.3 172.4 L363.8 172.1 L365.3 171.8 L366.8 171.5 L368.3 171.3 L369.8 171.0 L371.3 170.8 L372.8 170.6 L374.3 170.3 L375.8 170.1 L377.3 169.9 L378.8 169.6 L380.3 169.4 L381.8 169.2 L383.3 169.0 L384.8 168.8 L386.3 168.6 L387.8 168.5 L389.3 168.3 L390.8 168.2 L392.3 168.0 L393.9 167.9 L395.4 167.8 L396.9 167.7 L398.4 167.6 L399.9 167.5 L401.4 167.4 L402.9 167.4 L404.4 167.3 L405.9 167.3 L407.4 167.2 L408.9 167.2 L410.4 167.2 L411.9 167.1 L413.4 167.1 L414.9 167.1 L416.4 167.0 L417.9 167.0 L419.4 167.0 L420.9 167.0 L422.4 167.0 L423.9 167.0 L425.4 167.0 L426.9 167.0 L428.4 167.0 L429.9 167.0 L431.4 167.0 L432.9 167.0 L434.4 167.1 L435.9 167.1 L437.4 167.2 L438.9 167.3 L440.4 167.3 L441.9 167.4 L443.4 167.5 L444.9 167.6 L446.4 167.8 L447.9 167.9 L449.4 168.0 L450.9 168.2 L452.4 168.5 L453.9 168.8 L455.4 169.1 L456.9 169.5 L458.4 169.9 L459.9 170.3 L461.4 170.6 L462.9 171.0 L464.4 171.3 L465.9 171.6 L467.4 172.0 L468.9 172.3 L470.4 172.6 L471.9 173.0 L473.4 173.3 L474.9 173.7 L476.4 174.1 L477.9 174.6 L479.4 175.0 L480.9 175.5 L482.4 176.0 L483.9 176.5 L485.4 177.1 L486.9 177.6 L488.4 178.1 L490.0 178.5 L491.5 179.0 L493.0 179.4 L494.5 179.8 L496.0 180.1 L497.5 180.5 L499.0 180.8 L500.5 181.2 L502.0 181.5 L503.5 181.9 L505.0 182.2 L506.5 182.5 L508.0 182.8 L509.5 183.1 L511.0 183.4 L512.5 183.7 L514.0 184.0 L515.5 184.4 L517.0 184.7 L518.5 185.1 L520.0 185.6 L521.5 186.1 L523.0 186.7 L524.5 187.3 L526.0 187.9 L527.5 188.5 L529.0 189.0 L530.5 189.5 L532.0 190.0 L533.5 190.4 L535.0 190.7 L536.5 191.0 L538.0 191.3 L539.5 191.6 L541.0 191.9 L542.5 192.2 L544.0 192.5 L545.5 192.9 L547.0 193.3 L548.5 193.7 L550.0 194.2 L551.5 194.7 L553.0 195.2 L554.5 195.7 L556.0 196.2 L557.5 196.7 L559.0 197.2 L560.5 197.7 L562.0 198.1 L563.5 198.6 L565.0 199.1 L566.5 199.6 L568.0 200.0 L569.5 200.5 L571.0 201.0 L572.5 201.5 L574.0 202.0 L575.5 202.6 L577.0 203.2 L578.5 203.8 L580.0 204.4 L581.5 205.0 L583.0 205.6 L584.5 206.2 L586.1 206.7 L587.6 207.2 L589.1 207.5 L590.6 207.9 L592.1 208.2 L593.6 208.4 L595.1 208.7 L596.6 209.0 L598.1 209.3 L599.6 209.6 L601.1 210.0 L602.6 210.5 L604.1 211.0 L605.6 211.5 L607.1 212.0 L608.6 212.5 L610.1 213.1 L611.6 213.6 L613.1 214.1 L614.6 214.6 L616.1 215.0 L617.6 215.5 L619.1 215.9 L620.6 216.3 L622.1 216.7 L623.6 217.2 L625.1 217.6 L626.6 217.9 L628.1 218.3 L629.6 218.7 L631.1 219.1 L632.6 219.4" stroke="#43682B" stroke-width="4.10" stroke-dasharray="12.30 16.40"/>
<path d="M159.4 596.2 L160.9 596.1 L162.4 596.0 L163.9 596.0 L165.4 595.9 L166.9 595.9 L168.4 595.9 L169.9 595.9 L171.4 595.9 L172.9 596.0 L174.4 596.0 L175.9 596.0 L177.4 596.2 L178.9 596.4 L180.4 596.7 L181.9 597.0 L183.5 597.4 L185.0 598.0 L186.5 599.1 L188.0 600.4 L189.5 602.0 L191.0 603.5 L192.5 605.0 L194.0 606.6 L195.5 608.4 L197.0 610.5 L198.5 612.9 L200.0 615.8 L201.5 619.1 L203.0 622.3 L204.5 625.7 L206.0 629.1 L207.5 632.5 L209.0 635.9 L210.5 639.3 L212.0 642.6 L213.5 646.0 L215.0 649.3 L216.5 652.7 L218.0 656.3 L219.5 660.3 L221.0 664.4 L222.5 668.4 L224.0 672.4 L225.5 676.3 L227.0 680.1 L228.5 683.8 L230.0 687.5 L231.6 691.0 L233.1 694.4 L234.6 697.5 L236.1 700.2 L237.6 702.6 L239.1 704.8 L240.6 706.9 L242.1 708.8 L243.6 710.5 L245.1 712.2 L246.6 713.8 L248.1 715.3 L249.6 716.7 L251.1 717.9 L252.6 719.0 L254.1 720.1 L255.6 721.1 L257.1 722.0 L258.6 722.8 L260.1 723.4 L261.6 723.9 L263.1 724.4 L264.6 724.8 L266.1 725.2 L267.6 725.5 L269.1 725.8 L270.6 725.9 L272.1 726.0 L273.6 726.0 L275.1 726.0 L276.6 725.9 L278.1 725.8 L279.7 725.6 L281.2 725.4 L282.7 725.2 L284.2 724.8 L285.7 724.4 L287.2 723.9 L288.7 723.3 L290.2 722.7 L291.7 722.0 L293.2 721.3 L294.7 720.6 L296.2 719.9 L297.7 719.0 L299.2 718.1 L300.7 717.2 L302.2 716.3 L303.7 715.4 L305.2 714.5 L306.7 713.6 L308.2 712.7 L309.7 711.7 L311.2 710.8 L312.7 709.8 L314.2 708.9 L315.7 707.9 L317.2 707.0 L318.7 706.1 L320.2 705.2 L321.7 704.3 L323.2 703.5 L324.7 702.6 L326.3 701.7 L327.8 700.9 L329.3 700.0 L330.8 699.1 L332.3 698.2 L333.8 697.3 L335.3 696.4 L336.8 695.5 L338.3 694.5 L339.8 693.5 L341.3 692.5 L342.8 691.4 L344.3 690.4 L345.8 689.3 L347.3 688.2 L348.8 687.2 L350.3 686.1 L351.8 685.0 L353.3 684.0 L354.8 683.0 L356.3 682.0 L357.8 681.0 L359.3 680.0 L360.8 679.0 L362.3 678.0 L363.8 677.0 L365.3 676.0 L366.8 675.1 L368.3 674.1 L369.8 673.1 L371.3 672.2 L372.8 671.3 L374.4 670.3 L375.9 669.4 L377.4 668.5 L378.9 667.7 L380.4 666.8 L381.9 666.0 L383.4 665.1 L384.9 664.3 L386.4 663.5 L387.9 662.8 L389.4 662.0 L390.9 661.3 L392.4 660.6 L393.9 659.8 L395.4 659.1 L396.9 658.4 L398.4 657.7 L399.9 657.1 L401.4 656.4 L402.9 655.8 L404.4 655.2 L405.9 654.7 L407.4 654.1 L408.9 653.6 L410.4 653.1 L411.9 652.6 L413.4 652.1 L414.9 651.8 L416.4 651.4 L417.9 651.2 L419.4 651.0 L421.0 650.7 L422.5 650.5 L424.0 650.4 L425.5 650.2 L427.0 650.1 L428.5 650.0 L430.0 650.0 L431.5 650.0 L433.0 650.1 L434.5 650.1 L436.0 650.2 L437.5 650.3 L439.0 650.4 L440.5 650.5 L442.0 650.6 L443.5 650.7 L445.0 650.8 L446.5 650.9 L448.0 651.1 L449.5 651.3 L451.0 651.5 L452.5 651.7 L454.0 651.9 L455.5 652.1 L457.0 652.4 L458.5 652.7 L460.0 653.0 L461.5 653.4 L463.0 653.8 L464.5 654.2 L466.0 654.7 L467.5 655.3 L469.1 655.9 L470.6 656.5 L472.1 657.1 L473.6 657.7 L475.1 658.4 L476.6 659.0 L478.1 659.7 L479.6 660.3 L481.1 661.0 L482.6 661.6 L484.1 662.2 L485.6 662.7 L487.1 663.2 L488.6 663.8 L490.1 664.3 L491.6 664.7 L493.1 665.2 L494.6 665.7 L496.1 666.2 L497.6 666.7 L499.1 667.3 L500.6 667.8 L502.1 668.4 L503.6 668.9 L505.1 669.6 L506.6 670.2 L508.1 670.9 L509.6 671.6 L511.1 672.3 L512.6 673.1 L514.1 673.8 L515.6 674.6 L517.2 675.3 L518.7 676.1 L520.2 676.9 L521.7 677.6 L523.2 678.3 L524.7 679.1 L526.2 679.8 L527.7 680.5 L529.2 681.2 L530.7 682.0 L532.2 682.7 L533.7 683.5 L535.2 684.2 L536.7 684.9 L538.2 685.7 L539.7 686.4 L541.2 687.2 L542.7 687.9 L544.2 688.6 L545.7 689.4 L547.2 690.1 L548.7 690.8 L550.2 691.5 L551.7 692.3 L553.2 693.0 L554.7 693.7 L556.2 694.4 L557.7 695.1 L559.2 695.8 L560.7 696.5 L562.2 697.2 L563.8 697.9 L565.3 698.6 L566.8 699.3 L568.3 700.0 L569.8 700.6 L571.3 701.3 L572.8 702.0 L574.3 702.7 L575.8 703.4 L577.3 704.0 L578.8 704.7 L580.3 705.4 L581.8 706.0 L583.3 706.7 L584.8 707.4 L586.3 708.1 L587.8 708.7 L589.3 709.4 L590.8 710.1 L592.3 710.8 L593.8 711.5 L595.3 712.1 L596.8 712.8 L598.3 713.5 L599.8 714.2 L601.3 714.9 L602.8 715.6 L604.3 716.3 L605.8 716.9 L607.3 717.6 L608.8 718.3 L610.3 719.0 L611.9 719.7 L613.4 720.4 L614.9 721.1 L616.4 721.7 L617.9 722.4 L619.4 723.1 L620.9 723.8 L622.4 724.5 L623.9 725.2 L625.4 725.9 L626.9 726.6 L628.4 727.2 L629.9 727.9 L631.4 728.6 L632.9 729.3 L634.4 730.0" stroke="#5B9BD5" stroke-width="4.80"/>
<path d="M159.4 597.2 L160.9 597.5 L162.4 597.8 L163.9 598.1 L165.4 598.4 L166.9 598.7 L168.4 598.9 L169.9 599.2 L171.4 599.5 L172.9 599.8 L174.4 600.0 L175.9 600.3 L177.4 600.6 L178.9 600.9 L180.4 601.3 L181.9 601.7 L183.5 602.2 L185.0 602.7 L186.5 603.3 L188.0 604.0 L189.5 604.9 L191.0 606.3 L192.5 607.9 L194.0 609.5 L195.5 611.2 L197.0 613.1 L198.5 615.1 L200.0 617.1 L201.5 619.3 L203.0 621.6 L204.5 624.0 L206.0 626.2 L207.5 628.1 L209.0 629.9 L210.5 631.9 L212.0 634.2 L213.5 636.9 L215.0 639.7 L216.5 642.4 L218.0 645.1 L219.5 647.8 L221.0 650.3 L222.5 652.5 L224.0 654.6 L225.5 656.5 L227.0 658.2 L228.5 659.9 L230.0 661.4 L231.6 662.9 L233.1 664.3 L234.6 665.8 L236.1 667.4 L237.6 669.0 L239.1 670.6 L240.6 672.1 L242.1 673.6 L243.6 674.9 L245.1 676.1 L246.6 677.1 L248.1 678.0 L249.6 678.8 L251.1 679.6 L252.6 680.4 L254.1 681.1 L255.6 681.7 L257.1 682.4 L258.6 683.0 L260.1 683.7 L261.6 684.4 L263.1 684.9 L264.6 685.2 L266.1 685.3 L267.6 685.4 L269.1 685.5 L270.6 685.5 L272.1 685.6 L273.6 685.6 L275.1 685.6 L276.6 685.6 L278.1 685.5 L279.7 685.5 L281.2 685.5 L282.7 685.4 L284.2 685.4 L285.7 685.3 L287.2 685.2 L288.7 685.1 L290.2 685.0 L291.7 684.9 L293.2 684.7 L294.7 684.5 L296.2 684.2 L297.7 683.8 L299.2 683.4 L300.7 682.8 L302.2 682.2 L303.7 681.6 L305.2 680.9 L306.7 680.3 L308.2 679.6 L309.7 679.0 L311.2 678.4 L312.7 677.8 L314.2 677.4 L315.7 676.9 L317.2 676.5 L318.7 676.1 L320.2 675.8 L321.7 675.4 L323.2 675.1 L324.7 674.7 L326.3 674.4 L327.8 674.1 L329.3 673.8 L330.8 673.4 L332.3 673.1 L333.8 672.8 L335.3 672.4 L336.8 672.0 L338.3 671.6 L339.8 671.2 L341.3 670.7 L342.8 670.2 L344.3 669.7 L345.8 669.1 L347.3 668.5 L348.8 667.9 L350.3 667.2 L351.8 666.6 L353.3 666.0 L354.8 665.4 L356.3 664.9 L357.8 664.4 L359.3 663.9 L360.8 663.5 L362.3 663.1 L363.8 662.6 L365.3 662.2 L366.8 661.9 L368.3 661.5 L369.8 661.1 L371.3 660.8 L372.8 660.4 L374.4 660.1 L375.9 659.8 L377.4 659.5 L378.9 659.2 L380.4 658.9 L381.9 658.7 L383.4 658.4 L384.9 658.1 L386.4 657.9 L387.9 657.6 L389.4 657.4 L390.9 657.1 L392.4 656.9 L393.9 656.7 L395.4 656.5 L396.9 656.3 L398.4 656.2 L399.9 656.0 L401.4 655.9 L402.9 655.8 L404.4 655.6 L405.9 655.5 L407.4 655.4 L408.9 655.3 L410.4 655.2 L411.9 655.2 L413.4 655.1 L414.9 655.1 L416.4 655.0 L417.9 655.0 L419.4 655.0 L421.0 655.0 L422.5 655.1 L424.0 655.1 L425.5 655.2 L427.0 655.3 L428.5 655.5 L430.0 655.6 L431.5 655.8 L433.0 656.0 L434.5 656.2 L436.0 656.4 L437.5 656.6 L439.0 656.8 L440.5 657.1 L442.0 657.3 L443.5 657.6 L445.0 657.9 L446.5 658.3 L448.0 658.6 L449.5 659.0 L451.0 659.4 L452.5 659.8 L454.0 660.2 L455.5 660.6 L457.0 661.0 L458.5 661.4 L460.0 661.8 L461.5 662.2 L463.0 662.6 L464.5 663.0 L466.0 663.4 L467.5 663.8 L469.1 664.3 L470.6 664.7 L472.1 665.1 L473.6 665.5 L475.1 665.9 L476.6 666.4 L478.1 666.8 L479.6 667.3 L481.1 667.7 L482.6 668.2 L484.1 668.6 L485.6 669.1 L487.1 669.6 L488.6 670.1 L490.1 670.6 L491.6 671.1 L493.1 671.6 L494.6 672.1 L496.1 672.7 L497.6 673.2 L499.1 673.8 L500.6 674.4 L502.1 675.0 L503.6 675.6 L505.1 676.2 L506.6 676.9 L508.1 677.5 L509.6 678.1 L511.1 678.8 L512.6 679.4 L514.1 680.1 L515.6 680.7 L517.2 681.3 L518.7 681.9 L520.2 682.5 L521.7 683.0 L523.2 683.6 L524.7 684.1 L526.2 684.7 L527.7 685.2 L529.2 685.7 L530.7 686.3 L532.2 686.8 L533.7 687.4 L535.2 688.0 L536.7 688.6 L538.2 689.2 L539.7 689.9 L541.2 690.5 L542.7 691.2 L544.2 692.0 L545.7 692.7 L547.2 693.5 L548.7 694.3 L550.2 695.1 L551.7 695.9 L553.2 696.7 L554.7 697.5 L556.2 698.4 L557.7 699.2 L559.2 700.1 L560.7 700.9 L562.2 701.8 L563.8 702.6 L565.3 703.5 L566.8 704.3 L568.3 705.1 L569.8 706.0 L571.3 706.8 L572.8 707.6 L574.3 708.4 L575.8 709.1 L577.3 709.9 L578.8 710.6 L580.3 711.3 L581.8 712.0 L583.3 712.7 L584.8 713.4 L586.3 714.1 L587.8 714.8 L589.3 715.5 L590.8 716.1 L592.3 716.8 L593.8 717.5 L595.3 718.1 L596.8 718.7 L598.3 719.4 L599.8 720.0 L601.3 720.6 L602.8 721.2 L604.3 721.8 L605.8 722.4 L607.3 723.0 L608.8 723.6 L610.3 724.2 L611.9 724.8 L613.4 725.4 L614.9 726.0 L616.4 726.5 L617.9 727.1 L619.4 727.7 L620.9 728.2 L622.4 728.8 L623.9 729.3 L625.4 729.9 L626.9 730.4 L628.4 731.0 L629.9 731.5 L631.4 732.0 L632.9 732.5 L634.4 733.0" stroke="#ED7D31" stroke-width="4.80" stroke-dasharray="0 9.60"/>
<path d="M159.4 599.5 L160.9 602.5 L162.4 605.7 L163.9 609.1 L165.4 612.7 L166.9 616.2 L168.4 619.3 L169.9 622.1 L171.4 624.8 L172.9 627.8 L174.4 631.5 L175.9 635.2 L177.4 638.4 L178.9 641.3 L180.4 644.0 L181.9 646.6 L183.5 649.1 L185.0 651.5 L186.5 653.9 L188.0 656.2 L189.5 658.3 L191.0 660.2 L192.5 661.9 L194.0 663.6 L195.5 665.2 L197.0 666.9 L198.5 668.6 L200.0 670.4 L201.5 672.2 L203.0 674.0 L204.5 676.0 L206.0 678.4 L207.5 680.7 L209.0 682.8 L210.5 684.7 L212.0 686.5 L213.5 688.3 L215.0 690.0 L216.5 691.8 L218.0 693.7 L219.5 695.5 L221.0 697.3 L222.5 698.9 L224.0 700.6 L225.5 702.2 L227.0 703.6 L228.5 704.8 L230.0 705.7 L231.6 706.6 L233.1 707.4 L234.6 708.2 L236.1 709.0 L237.6 709.9 L239.1 710.7 L240.6 711.6 L242.1 712.4 L243.6 713.2 L245.1 713.9 L246.6 714.5 L248.1 715.1 L249.6 715.6 L251.1 716.1 L252.6 716.5 L254.1 716.8 L255.6 717.1 L257.1 717.3 L258.6 717.6 L260.1 717.8 L261.6 718.0 L263.1 718.0 L264.6 718.0 L266.1 717.9 L267.6 717.7 L269.1 717.5 L270.6 717.3 L272.1 717.0 L273.6 716.7 L275.1 716.5 L276.6 716.2 L278.1 716.0 L279.7 715.8 L281.2 715.5 L282.7 715.2 L284.2 714.7 L285.7 714.1 L287.2 713.4 L288.7 712.6 L290.2 711.7 L291.7 710.8 L293.2 709.9 L294.7 709.1 L296.2 708.5 L297.7 707.8 L299.2 707.1 L300.7 706.5 L302.2 705.9 L303.7 705.3 L305.2 704.6 L306.7 704.0 L308.2 703.3 L309.7 702.7 L311.2 702.0 L312.7 701.3 L314.2 700.6 L315.7 699.9 L317.2 699.2 L318.7 698.4 L320.2 697.6 L321.7 696.8 L323.2 696.0 L324.7 695.1 L326.3 694.2 L327.8 693.3 L329.3 692.4 L330.8 691.5 L332.3 690.6 L333.8 689.6 L335.3 688.7 L336.8 687.7 L338.3 686.7 L339.8 685.7 L341.3 684.7 L342.8 683.8 L344.3 682.9 L345.8 682.1 L347.3 681.4 L348.8 680.7 L350.3 680.0 L351.8 679.4 L353.3 678.8 L354.8 678.3 L356.3 677.7 L357.8 677.2 L359.3 676.7 L360.8 676.1 L362.3 675.6 L363.8 675.0 L365.3 674.4 L366.8 673.7 L368.3 673.1 L369.8 672.4 L371.3 671.7 L372.8 671.0 L374.4 670.4 L375.9 669.7 L377.4 669.0 L378.9 668.4 L380.4 667.8 L381.9 667.1 L383.4 666.5 L384.9 665.9 L386.4 665.3 L387.9 664.7 L389.4 664.1 L390.9 663.5 L392.4 662.9 L393.9 662.4 L395.4 661.9 L396.9 661.4 L398.4 660.9 L399.9 660.5 L401.4 660.1 L402.9 659.8 L404.4 659.4 L405.9 659.1 L407.4 658.8 L408.9 658.4 L410.4 658.2 L411.9 657.9 L413.4 657.6 L414.9 657.4 L416.4 657.2 L417.9 657.1 L419.4 657.0 L421.0 656.9 L422.5 656.8 L424.0 656.7 L425.5 656.6 L427.0 656.5 L428.5 656.5 L430.0 656.4 L431.5 656.4 L433.0 656.4 L434.5 656.4 L436.0 656.4 L437.5 656.4 L439.0 656.5 L440.5 656.5 L442.0 656.6 L443.5 656.8 L445.0 656.9 L446.5 657.1 L448.0 657.3 L449.5 657.5 L451.0 657.8 L452.5 658.0 L454.0 658.3 L455.5 658.5 L457.0 658.8 L458.5 659.1 L460.0 659.4 L461.5 659.7 L463.0 660.1 L464.5 660.5 L466.0 660.9 L467.5 661.3 L469.1 661.7 L470.6 662.1 L472.1 662.6 L473.6 663.0 L475.1 663.5 L476.6 663.9 L478.1 664.4 L479.6 664.9 L481.1 665.3 L482.6 665.8 L484.1 666.3 L485.6 666.8 L487.1 667.3 L488.6 667.8 L490.1 668.3 L491.6 668.8 L493.1 669.4 L494.6 669.9 L496.1 670.5 L497.6 671.1 L499.1 671.7 L500.6 672.2 L502.1 672.9 L503.6 673.5 L505.1 674.2 L506.6 674.8 L508.1 675.5 L509.6 676.2 L511.1 676.9 L512.6 677.6 L514.1 678.3 L515.6 679.0 L517.2 679.7 L518.7 680.4 L520.2 681.1 L521.7 681.7 L523.2 682.4 L524.7 683.0 L526.2 683.7 L527.7 684.3 L529.2 685.0 L530.7 685.6 L532.2 686.3 L533.7 686.9 L535.2 687.6 L536.7 688.2 L538.2 688.8 L539.7 689.5 L541.2 690.1 L542.7 690.8 L544.2 691.4 L545.7 692.1 L547.2 692.7 L548.7 693.4 L550.2 694.0 L551.7 694.7 L553.2 695.3 L554.7 696.0 L556.2 696.7 L557.7 697.3 L559.2 698.0 L560.7 698.6 L562.2 699.3 L563.8 700.0 L565.3 700.6 L566.8 701.3 L568.3 702.0 L569.8 702.6 L571.3 703.3 L572.8 704.0 L574.3 704.7 L575.8 705.4 L577.3 706.0 L578.8 706.7 L580.3 707.4 L581.8 708.2 L583.3 708.9 L584.8 709.6 L586.3 710.3 L587.8 711.0 L589.3 711.7 L590.8 712.5 L592.3 713.2 L593.8 713.9 L595.3 714.5 L596.8 715.2 L598.3 715.9 L599.8 716.5 L601.3 717.1 L602.8 717.7 L604.3 718.3 L605.8 718.8 L607.3 719.3 L608.8 719.8 L610.3 720.3 L611.9 720.8 L613.4 721.4 L614.9 721.9 L616.4 722.6 L617.9 723.2 L619.4 723.8 L620.9 724.5 L622.4 725.2 L623.9 725.9 L625.4 726.6 L626.9 727.3 L628.4 728.0 L629.9 728.7 L631.4 729.5 L632.9 730.2 L634.4 731.0" stroke="#0070C0" stroke-width="4.80" stroke-dasharray="9.60 9.60"/>
<path d="M159.4 641.0 L160.9 637.5 L162.4 634.0 L163.9 630.8 L165.4 627.8 L166.9 625.1 L168.4 622.7 L169.9 620.4 L171.4 618.2 L172.9 616.2 L174.4 614.3 L175.9 612.6 L177.4 611.0 L178.9 609.4 L180.4 608.0 L181.9 606.7 L183.5 605.7 L185.0 604.8 L186.5 604.1 L188.0 603.8 L189.5 603.9 L191.0 604.4 L192.5 605.2 L194.0 606.2 L195.5 607.4 L197.0 609.1 L198.5 611.1 L200.0 613.3 L201.5 615.3 L203.0 617.1 L204.5 618.9 L206.0 620.7 L207.5 622.5 L209.0 624.4 L210.5 626.4 L212.0 628.7 L213.5 631.4 L215.0 634.4 L216.5 637.5 L218.0 640.5 L219.5 643.2 L221.0 645.7 L222.5 648.2 L224.0 650.5 L225.5 652.8 L227.0 655.1 L228.5 657.2 L230.0 659.4 L231.6 661.5 L233.1 663.6 L234.6 665.7 L236.1 667.6 L237.6 669.3 L239.1 670.8 L240.6 672.2 L242.1 673.5 L243.6 674.7 L245.1 675.9 L246.6 677.0 L248.1 678.0 L249.6 679.0 L251.1 679.8 L252.6 680.5 L254.1 681.1 L255.6 681.8 L257.1 682.4 L258.6 683.0 L260.1 683.5 L261.6 684.0 L263.1 684.5 L264.6 684.8 L266.1 685.2 L267.6 685.4 L269.1 685.7 L270.6 685.9 L272.1 686.1 L273.6 686.3 L275.1 686.5 L276.6 686.7 L278.1 686.8 L279.7 686.9 L281.2 686.9 L282.7 686.8 L284.2 686.7 L285.7 686.5 L287.2 686.2 L288.7 685.8 L290.2 685.4 L291.7 684.8 L293.2 684.3 L294.7 683.7 L296.2 683.1 L297.7 682.6 L299.2 682.0 L300.7 681.6 L302.2 681.1 L303.7 680.7 L305.2 680.4 L306.7 680.0 L308.2 679.6 L309.7 679.3 L311.2 678.9 L312.7 678.6 L314.2 678.2 L315.7 677.8 L317.2 677.4 L318.7 677.0 L320.2 676.6 L321.7 676.2 L323.2 675.8 L324.7 675.4 L326.3 675.0 L327.8 674.6 L329.3 674.2 L330.8 673.8 L332.3 673.3 L333.8 672.9 L335.3 672.5 L336.8 672.0 L338.3 671.5 L339.8 671.1 L341.3 670.6 L342.8 670.1 L344.3 669.6 L345.8 669.0 L347.3 668.5 L348.8 668.0 L350.3 667.4 L351.8 666.8 L353.3 666.3 L354.8 665.7 L356.3 665.1 L357.8 664.5 L359.3 664.0 L360.8 663.4 L362.3 662.8 L363.8 662.2 L365.3 661.7 L366.8 661.1 L368.3 660.6 L369.8 660.1 L371.3 659.5 L372.8 658.9 L374.4 658.3 L375.9 657.7 L377.4 657.1 L378.9 656.5 L380.4 655.8 L381.9 655.2 L383.4 654.6 L384.9 654.0 L386.4 653.5 L387.9 653.0 L389.4 652.5 L390.9 652.1 L392.4 651.7 L393.9 651.4 L395.4 651.2 L396.9 651.0 L398.4 651.0 L399.9 650.9 L401.4 650.8 L402.9 650.8 L404.4 650.7 L405.9 650.7 L407.4 650.7 L408.9 650.6 L410.4 650.6 L411.9 650.6 L413.4 650.5 L414.9 650.5 L416.4 650.5 L417.9 650.4 L419.4 650.4 L421.0 650.3 L422.5 650.3 L424.0 650.2 L425.5 650.2 L427.0 650.1 L428.5 650.1 L430.0 650.0 L431.5 650.0 L433.0 650.0 L434.5 650.0 L436.0 650.1 L437.5 650.3 L439.0 650.4 L440.5 650.6 L442.0 650.9 L443.5 651.1 L445.0 651.4 L446.5 651.7 L448.0 652.0 L449.5 652.3 L451.0 652.8 L452.5 653.3 L454.0 653.8 L455.5 654.4 L457.0 655.0 L458.5 655.6 L460.0 656.3 L461.5 656.8 L463.0 657.4 L464.5 657.8 L466.0 658.2 L467.5 658.6 L469.1 658.8 L470.6 659.0 L472.1 659.2 L473.6 659.5 L475.1 659.7 L476.6 660.0 L478.1 660.3 L479.6 660.7 L481.1 661.3 L482.6 661.9 L484.1 662.8 L485.6 663.7 L487.1 664.7 L488.6 665.8 L490.1 666.9 L491.6 668.0 L493.1 669.1 L494.6 670.1 L496.1 671.0 L497.6 671.8 L499.1 672.5 L500.6 673.0 L502.1 673.5 L503.6 673.9 L505.1 674.3 L506.6 674.7 L508.1 675.2 L509.6 675.7 L511.1 676.2 L512.6 676.9 L514.1 677.7 L515.6 678.5 L517.2 679.4 L518.7 680.3 L520.2 681.3 L521.7 682.2 L523.2 683.1 L524.7 683.9 L526.2 684.6 L527.7 685.2 L529.2 685.7 L530.7 686.2 L532.2 686.6 L533.7 687.0 L535.2 687.5 L536.7 687.9 L538.2 688.4 L539.7 689.0 L541.2 689.7 L542.7 690.5 L544.2 691.3 L545.7 692.2 L547.2 693.1 L548.7 694.1 L550.2 695.1 L551.7 696.0 L553.2 696.9 L554.7 697.8 L556.2 698.6 L557.7 699.3 L559.2 699.9 L560.7 700.4 L562.2 700.8 L563.8 701.3 L565.3 701.7 L566.8 702.1 L568.3 702.6 L569.8 703.2 L571.3 703.8 L572.8 704.5 L574.3 705.4 L575.8 706.4 L577.3 707.4 L578.8 708.6 L580.3 709.7 L581.8 710.9 L583.3 712.0 L584.8 713.1 L586.3 714.1 L587.8 715.0 L589.3 715.8 L590.8 716.7 L592.3 717.4 L593.8 718.2 L595.3 719.0 L596.8 719.7 L598.3 720.5 L599.8 721.3 L601.3 722.1 L602.8 723.0 L604.3 723.9 L605.8 724.9 L607.3 726.0 L608.8 727.0 L610.3 728.0 L611.9 729.0 L613.4 729.9 L614.9 730.8 L616.4 731.5 L617.9 732.1 L619.4 732.7 L620.9 733.2 L622.4 733.7 L623.9 734.2 L625.4 734.6 L626.9 735.0 L628.4 735.3 L629.9 735.5 L631.4 735.8 L632.9 735.9 L634.4 736.0" stroke="#FFC000" stroke-width="4.80" stroke-dasharray="14.40 19.20"/>
<path d="M159.4 640.6 L160.9 638.6 L162.4 636.6 L163.9 634.6 L165.4 632.6 L166.9 630.5 L168.4 628.5 L169.9 626.3 L171.4 624.1 L172.9 621.7 L174.4 619.5 L175.9 617.3 L177.4 615.3 L178.9 613.6 L180.4 612.0 L181.9 610.6 L183.5 609.3 L185.0 608.3 L186.5 607.5 L188.0 607.0 L189.5 606.8 L191.0 606.7 L192.5 606.8 L194.0 607.0 L195.5 607.4 L197.0 607.8 L198.5 608.3 L200.0 609.0 L201.5 609.7 L203.0 610.5 L204.5 611.3 L206.0 612.3 L207.5 613.3 L209.0 614.3 L210.5 615.4 L212.0 616.6 L213.5 618.0 L215.0 619.6 L216.5 621.2 L218.0 622.8 L219.5 624.5 L221.0 626.1 L222.5 627.7 L224.0 629.1 L225.5 630.5 L227.0 631.8 L228.5 633.1 L230.0 634.4 L231.6 635.7 L233.1 637.0 L234.6 638.1 L236.1 639.2 L237.6 640.1 L239.1 640.8 L240.6 641.3 L242.1 641.8 L243.6 642.2 L245.1 642.6 L246.6 642.9 L248.1 643.2 L249.6 643.5 L251.1 643.8 L252.6 644.1 L254.1 644.3 L255.6 644.6 L257.1 644.9 L258.6 645.2 L260.1 645.4 L261.6 645.7 L263.1 646.0 L264.6 646.3 L266.1 646.5 L267.6 646.8 L269.1 647.1 L270.6 647.3 L272.1 647.6 L273.6 647.8 L275.1 648.0 L276.6 648.2 L278.1 648.4 L279.7 648.6 L281.2 648.8 L282.7 649.0 L284.2 649.2 L285.7 649.4 L287.2 649.5 L288.7 649.7 L290.2 649.9 L291.7 650.1 L293.2 650.3 L294.7 650.6 L296.2 650.8 L297.7 651.1 L299.2 651.4 L300.7 651.7 L302.2 652.1 L303.7 652.4 L305.2 652.7 L306.7 652.9 L308.2 653.1 L309.7 653.2 L311.2 653.4 L312.7 653.6 L314.2 653.7 L315.7 653.8 L317.2 654.0 L318.7 654.1 L320.2 654.2 L321.7 654.3 L323.2 654.3 L324.7 654.4 L326.3 654.4 L327.8 654.4 L329.3 654.5 L330.8 654.5 L332.3 654.5 L333.8 654.5 L335.3 654.5 L336.8 654.5 L338.3 654.5 L339.8 654.5 L341.3 654.6 L342.8 654.6 L344.3 654.7 L345.8 654.8 L347.3 654.8 L348.8 655.0 L350.3 655.1 L351.8 655.2 L353.3 655.3 L354.8 655.4 L356.3 655.4 L357.8 655.5 L359.3 655.5 L360.8 655.5 L362.3 655.5 L363.8 655.5 L365.3 655.4 L366.8 655.4 L368.3 655.4 L369.8 655.3 L371.3 655.3 L372.8 655.2 L374.4 655.2 L375.9 655.1 L377.4 655.1 L378.9 655.0 L380.4 655.0 L381.9 654.9 L383.4 654.9 L384.9 654.8 L386.4 654.8 L387.9 654.7 L389.4 654.7 L390.9 654.6 L392.4 654.6 L393.9 654.5 L395.4 654.5 L396.9 654.4 L398.4 654.4 L399.9 654.4 L401.4 654.4 L402.9 654.5 L404.4 654.6 L405.9 654.7 L407.4 654.8 L408.9 654.9 L410.4 654.9 L411.9 655.0 L413.4 655.0 L414.9 655.0 L416.4 655.0 L417.9 654.9 L419.4 654.9 L421.0 654.9 L422.5 654.8 L424.0 654.7 L425.5 654.7 L427.0 654.6 L428.5 654.5 L430.0 654.4 L431.5 654.4 L433.0 654.3 L434.5 654.2 L436.0 654.1 L437.5 654.0 L439.0 653.9 L440.5 653.9 L442.0 653.8 L443.5 653.7 L445.0 653.7 L446.5 653.6 L448.0 653.6 L449.5 653.5 L451.0 653.5 L452.5 653.5 L454.0 653.5 L455.5 653.6 L457.0 653.7 L458.5 653.8 L460.0 653.9 L461.5 653.9 L463.0 654.0 L464.5 654.0 L466.0 654.0 L467.5 653.9 L469.1 653.8 L470.6 653.7 L472.1 653.5 L473.6 653.3 L475.1 653.1 L476.6 652.8 L478.1 652.6 L479.6 652.4 L481.1 652.1 L482.6 651.9 L484.1 651.7 L485.6 651.5 L487.1 651.3 L488.6 651.1 L490.1 650.9 L491.6 650.7 L493.1 650.5 L494.6 650.3 L496.1 650.1 L497.6 650.0 L499.1 649.8 L500.6 649.7 L502.1 649.6 L503.6 649.4 L505.1 649.4 L506.6 649.3 L508.1 649.3 L509.6 649.2 L511.1 649.2 L512.6 649.2 L514.1 649.2 L515.6 649.2 L517.2 649.1 L518.7 649.1 L520.2 649.0 L521.7 648.9 L523.2 648.8 L524.7 648.7 L526.2 648.5 L527.7 648.4 L529.2 648.2 L530.7 648.1 L532.2 647.9 L533.7 647.7 L535.2 647.6 L536.7 647.4 L538.2 647.2 L539.7 647.0 L541.2 646.7 L542.7 646.5 L544.2 646.2 L545.7 645.9 L547.2 645.6 L548.7 645.4 L550.2 645.1 L551.7 644.9 L553.2 644.7 L554.7 644.5 L556.2 644.3 L557.7 644.2 L559.2 644.1 L560.7 643.9 L562.2 643.8 L563.8 643.7 L565.3 643.6 L566.8 643.5 L568.3 643.4 L569.8 643.2 L571.3 643.1 L572.8 643.0 L574.3 642.8 L575.8 642.7 L577.3 642.5 L578.8 642.4 L580.3 642.2 L581.8 642.0 L583.3 641.9 L584.8 641.7 L586.3 641.5 L587.8 641.4 L589.3 641.2 L590.8 641.1 L592.3 640.9 L593.8 640.7 L595.3 640.6 L596.8 640.4 L598.3 640.3 L599.8 640.1 L601.3 640.0 L602.8 639.9 L604.3 639.8 L605.8 639.6 L607.3 639.5 L608.8 639.4 L610.3 639.4 L611.9 639.3 L613.4 639.2 L614.9 639.1 L616.4 639.0 L617.9 639.0 L619.4 638.9 L620.9 638.8 L622.4 638.8 L623.9 638.7 L625.4 638.7 L626.9 638.6 L628.4 638.6 L629.9 638.6 L631.4 638.5 L632.9 638.5 L634.4 638.5" stroke="#4472C4" stroke-width="4.80" stroke-dasharray="14.40 19.20 0 19.20"/>
<path d="M159.4 652.0 L160.9 652.3 L162.4 652.7 L163.9 653.0 L165.4 653.3 L166.9 653.6 L168.4 654.0 L169.9 654.3 L171.4 654.6 L172.9 654.9 L174.4 655.2 L175.9 655.5 L177.4 655.8 L178.9 656.0 L180.4 656.3 L181.9 656.5 L183.5 656.7 L185.0 656.9 L186.5 657.2 L188.0 657.5 L189.5 657.9 L191.0 658.3 L192.5 658.8 L194.0 659.3 L195.5 660.0 L197.0 660.6 L198.5 661.4 L200.0 662.1 L201.5 662.9 L203.0 663.6 L204.5 664.4 L206.0 665.2 L207.5 665.9 L209.0 666.6 L210.5 667.2 L212.0 667.8 L213.5 668.4 L215.0 669.0 L216.5 669.6 L218.0 670.2 L219.5 670.8 L221.0 671.4 L222.5 671.9 L224.0 672.5 L225.5 673.1 L227.0 673.7 L228.5 674.3 L230.0 674.9 L231.6 675.6 L233.1 676.3 L234.6 677.1 L236.1 677.8 L237.6 678.4 L239.1 679.0 L240.6 679.6 L242.1 680.0 L243.6 680.4 L245.1 680.8 L246.6 681.1 L248.1 681.4 L249.6 681.6 L251.1 681.8 L252.6 681.9 L254.1 682.0 L255.6 682.0 L257.1 682.0 L258.6 681.9 L260.1 681.8 L261.6 681.8 L263.1 681.7 L264.6 681.6 L266.1 681.5 L267.6 681.4 L269.1 681.2 L270.6 681.1 L272.1 681.0 L273.6 680.8 L275.1 680.7 L276.6 680.5 L278.1 680.4 L279.7 680.2 L281.2 680.0 L282.7 679.9 L284.2 679.7 L285.7 679.5 L287.2 679.3 L288.7 679.0 L290.2 678.8 L291.7 678.6 L293.2 678.3 L294.7 678.1 L296.2 677.8 L297.7 677.5 L299.2 677.1 L300.7 676.8 L302.2 676.4 L303.7 676.1 L305.2 675.7 L306.7 675.3 L308.2 674.9 L309.7 674.5 L311.2 674.2 L312.7 673.8 L314.2 673.5 L315.7 673.2 L317.2 672.8 L318.7 672.5 L320.2 672.2 L321.7 671.8 L323.2 671.5 L324.7 671.2 L326.3 670.9 L327.8 670.5 L329.3 670.2 L330.8 669.8 L332.3 669.5 L333.8 669.1 L335.3 668.8 L336.8 668.4 L338.3 668.0 L339.8 667.7 L341.3 667.3 L342.8 666.9 L344.3 666.5 L345.8 666.1 L347.3 665.7 L348.8 665.3 L350.3 664.8 L351.8 664.3 L353.3 663.8 L354.8 663.2 L356.3 662.7 L357.8 662.1 L359.3 661.6 L360.8 661.1 L362.3 660.7 L363.8 660.3 L365.3 659.9 L366.8 659.5 L368.3 659.1 L369.8 658.7 L371.3 658.4 L372.8 658.1 L374.4 657.8 L375.9 657.5 L377.4 657.3 L378.9 657.1 L380.4 657.0 L381.9 656.9 L383.4 656.8 L384.9 656.7 L386.4 656.6 L387.9 656.5 L389.4 656.4 L390.9 656.3 L392.4 656.2 L393.9 656.2 L395.4 656.1 L396.9 656.0 L398.4 656.0 L399.9 655.9 L401.4 655.9 L402.9 655.8 L404.4 655.8 L405.9 655.7 L407.4 655.7 L408.9 655.6 L410.4 655.6 L411.9 655.6 L413.4 655.5 L414.9 655.5 L416.4 655.5 L417.9 655.5 L419.4 655.5 L421.0 655.5 L422.5 655.5 L424.0 655.6 L425.5 655.6 L427.0 655.7 L428.5 655.7 L430.0 655.8 L431.5 655.9 L433.0 655.9 L434.5 656.0 L436.0 656.1 L437.5 656.3 L439.0 656.5 L440.5 656.7 L442.0 656.9 L443.5 657.1 L445.0 657.4 L446.5 657.6 L448.0 657.9 L449.5 658.1 L451.0 658.4 L452.5 658.6 L454.0 658.8 L455.5 659.0 L457.0 659.2 L458.5 659.4 L460.0 659.6 L461.5 659.8 L463.0 660.0 L464.5 660.2 L466.0 660.5 L467.5 660.7 L469.1 661.0 L470.6 661.3 L472.1 661.7 L473.6 662.0 L475.1 662.4 L476.6 662.8 L478.1 663.3 L479.6 663.7 L481.1 664.1 L482.6 664.6 L484.1 665.0 L485.6 665.4 L487.1 665.8 L488.6 666.1 L490.1 666.5 L491.6 666.9 L493.1 667.2 L494.6 667.6 L496.1 667.9 L497.6 668.3 L499.1 668.7 L500.6 669.0 L502.1 669.5 L503.6 669.9 L505.1 670.4 L506.6 670.9 L508.1 671.4 L509.6 672.0 L511.1 672.6 L512.6 673.2 L514.1 673.8 L515.6 674.4 L517.2 675.0 L518.7 675.5 L520.2 676.1 L521.7 676.5 L523.2 677.0 L524.7 677.5 L526.2 677.9 L527.7 678.4 L529.2 678.8 L530.7 679.2 L532.2 679.6 L533.7 680.1 L535.2 680.5 L536.7 680.9 L538.2 681.3 L539.7 681.7 L541.2 682.1 L542.7 682.5 L544.2 682.8 L545.7 683.2 L547.2 683.6 L548.7 684.0 L550.2 684.4 L551.7 684.9 L553.2 685.4 L554.7 686.1 L556.2 686.7 L557.7 687.4 L559.2 688.2 L560.7 689.0 L562.2 689.7 L563.8 690.5 L565.3 691.3 L566.8 692.0 L568.3 692.7 L569.8 693.3 L571.3 693.9 L572.8 694.5 L574.3 695.1 L575.8 695.7 L577.3 696.3 L578.8 696.9 L580.3 697.4 L581.8 698.0 L583.3 698.6 L584.8 699.1 L586.3 699.7 L587.8 700.3 L589.3 700.9 L590.8 701.5 L592.3 702.1 L593.8 702.7 L595.3 703.3 L596.8 703.8 L598.3 704.4 L599.8 705.0 L601.3 705.5 L602.8 706.0 L604.3 706.5 L605.8 707.0 L607.3 707.4 L608.8 707.9 L610.3 708.3 L611.9 708.7 L613.4 709.1 L614.9 709.5 L616.4 709.9 L617.9 710.4 L619.4 710.8 L620.9 711.3 L622.4 711.7 L623.9 712.2 L625.4 712.6 L626.9 713.1 L628.4 713.6 L629.9 714.1 L631.4 714.5 L632.9 715.0 L634.4 715.5" stroke="#70AD47" stroke-width="4.80" stroke-dasharray="33.60 19.20"/>
<path d="M159.4 745.0 L160.9 741.5 L162.4 737.8 L163.9 733.8 L165.4 729.7 L166.9 725.4 L168.4 720.9 L169.9 716.3 L171.4 711.6 L172.9 706.0 L174.4 700.1 L175.9 695.2 L177.4 691.3 L178.9 687.6 L180.4 684.3 L181.9 681.5 L183.5 679.2 L185.0 677.4 L186.5 675.7 L188.0 674.1 L189.5 672.6 L191.0 671.2 L192.5 669.8 L194.0 668.4 L195.5 667.1 L197.0 665.8 L198.5 664.6 L200.0 663.3 L201.5 662.0 L203.0 660.8 L204.5 659.5 L206.0 658.3 L207.5 657.2 L209.0 656.2 L210.5 655.3 L212.0 654.5 L213.5 653.7 L215.0 653.0 L216.5 652.3 L218.0 651.6 L219.5 651.0 L221.0 650.4 L222.5 649.9 L224.0 649.4 L225.5 648.9 L227.0 648.5 L228.5 648.1 L230.0 647.7 L231.6 647.4 L233.1 647.0 L234.6 646.7 L236.1 646.4 L237.6 646.2 L239.1 646.1 L240.6 646.0 L242.1 646.0 L243.6 646.0 L245.1 646.0 L246.6 646.1 L248.1 646.2 L249.6 646.3 L251.1 646.4 L252.6 646.6 L254.1 646.7 L255.6 646.9 L257.1 647.1 L258.6 647.4 L260.1 647.6 L261.6 647.9 L263.1 648.1 L264.6 648.4 L266.1 648.7 L267.6 649.0 L269.1 649.4 L270.6 649.7 L272.1 650.0 L273.6 650.4 L275.1 650.7 L276.6 651.1 L278.1 651.5 L279.7 651.9 L281.2 652.2 L282.7 652.6 L284.2 653.1 L285.7 653.5 L287.2 654.0 L288.7 654.4 L290.2 654.9 L291.7 655.4 L293.2 656.0 L294.7 656.5 L296.2 657.0 L297.7 657.6 L299.2 658.2 L300.7 658.8 L302.2 659.4 L303.7 660.0 L305.2 660.6 L306.7 661.2 L308.2 661.8 L309.7 662.4 L311.2 663.0 L312.7 663.6 L314.2 664.3 L315.7 664.9 L317.2 665.5 L318.7 666.2 L320.2 666.8 L321.7 667.5 L323.2 668.2 L324.7 668.9 L326.3 669.6 L327.8 670.3 L329.3 671.0 L330.8 671.8 L332.3 672.5 L333.8 673.2 L335.3 674.0 L336.8 674.7 L338.3 675.4 L339.8 676.2 L341.3 676.9 L342.8 677.6 L344.3 678.3 L345.8 679.0 L347.3 679.7 L348.8 680.4 L350.3 681.1 L351.8 681.7 L353.3 682.3 L354.8 682.9 L356.3 683.5 L357.8 684.1 L359.3 684.6 L360.8 685.2 L362.3 685.7 L363.8 686.3 L365.3 686.9 L366.8 687.5 L368.3 688.1 L369.8 688.7 L371.3 689.4 L372.8 690.0 L374.4 690.6 L375.9 691.3 L377.4 691.9 L378.9 692.5 L380.4 693.2 L381.9 693.8 L383.4 694.3 L384.9 694.9 L386.4 695.5 L387.9 696.1 L389.4 696.7 L390.9 697.3 L392.4 697.9 L393.9 698.5 L395.4 699.1 L396.9 699.7 L398.4 700.3 L399.9 700.8 L401.4 701.4 L402.9 701.9 L404.4 702.5 L405.9 703.0 L407.4 703.5 L408.9 704.1 L410.4 704.5 L411.9 705.0 L413.4 705.5 L414.9 705.9 L416.4 706.3 L417.9 706.7 L419.4 707.1 L421.0 707.5 L422.5 707.8 L424.0 708.2 L425.5 708.5 L427.0 708.8 L428.5 709.2 L430.0 709.5 L431.5 709.8 L433.0 710.1 L434.5 710.4 L436.0 710.7 L437.5 711.0 L439.0 711.3 L440.5 711.7 L442.0 712.0 L443.5 712.3 L445.0 712.6 L446.5 712.9 L448.0 713.2 L449.5 713.5 L451.0 713.8 L452.5 714.1 L454.0 714.4 L455.5 714.7 L457.0 715.0 L458.5 715.3 L460.0 715.6 L461.5 715.8 L463.0 716.1 L464.5 716.4 L466.0 716.6 L467.5 716.9 L469.1 717.2 L470.6 717.4 L472.1 717.7 L473.6 718.0 L475.1 718.2 L476.6 718.5 L478.1 718.7 L479.6 718.9 L481.1 719.1 L482.6 719.3 L484.1 719.5 L485.6 719.6 L487.1 719.7 L488.6 719.8 L490.1 719.9 L491.6 720.0 L493.1 720.0 L494.6 720.1 L496.1 720.2 L497.6 720.2 L499.1 720.3 L500.6 720.4 L502.1 720.4 L503.6 720.5 L505.1 720.6 L506.6 720.6 L508.1 720.7 L509.6 720.8 L511.1 720.9 L512.6 720.9 L514.1 721.0 L515.6 721.1 L517.2 721.1 L518.7 721.2 L520.2 721.3 L521.7 721.4 L523.2 721.5 L524.7 721.6 L526.2 721.7 L527.7 721.8 L529.2 722.0 L530.7 722.1 L532.2 722.3 L533.7 722.5 L535.2 722.6 L536.7 722.8 L538.2 723.0 L539.7 723.2 L541.2 723.4 L542.7 723.6 L544.2 723.8 L545.7 724.0 L547.2 724.2 L548.7 724.4 L550.2 724.6 L551.7 724.8 L553.2 724.9 L554.7 725.1 L556.2 725.2 L557.7 725.4 L559.2 725.5 L560.7 725.6 L562.2 725.7 L563.8 725.8 L565.3 725.9 L566.8 725.9 L568.3 726.0 L569.8 726.1 L571.3 726.2 L572.8 726.2 L574.3 726.3 L575.8 726.4 L577.3 726.5 L578.8 726.6 L580.3 726.6 L581.8 726.7 L583.3 726.8 L584.8 726.9 L586.3 726.9 L587.8 727.0 L589.3 727.1 L590.8 727.2 L592.3 727.3 L593.8 727.4 L595.3 727.5 L596.8 727.6 L598.3 727.7 L599.8 727.8 L601.3 727.9 L602.8 728.0 L604.3 728.2 L605.8 728.3 L607.3 728.4 L608.8 728.6 L610.3 728.7 L611.9 728.9 L613.4 729.0 L614.9 729.2 L616.4 729.4 L617.9 729.5 L619.4 729.7 L620.9 729.9 L622.4 730.0 L623.9 730.2 L625.4 730.4 L626.9 730.6 L628.4 730.8 L629.9 731.0 L631.4 731.1 L632.9 731.3 L634.4 731.5" stroke="#255E91" stroke-width="4.80" stroke-dasharray="33.60 19.20 0 19.20"/>
<path d="M159.4 746.0 L160.9 741.8 L162.4 737.6 L163.9 733.4 L165.4 729.2 L166.9 725.1 L168.4 720.9 L169.9 716.7 L171.4 712.6 L172.9 708.2 L174.4 703.9 L175.9 699.8 L177.4 696.1 L178.9 692.9 L180.4 689.8 L181.9 687.0 L183.5 684.3 L185.0 681.7 L186.5 679.2 L188.0 676.8 L189.5 674.5 L191.0 672.3 L192.5 670.1 L194.0 667.8 L195.5 665.6 L197.0 663.3 L198.5 660.9 L200.0 658.6 L201.5 656.2 L203.0 653.8 L204.5 651.5 L206.0 649.1 L207.5 646.9 L209.0 644.6 L210.5 642.4 L212.0 640.2 L213.5 637.9 L215.0 635.8 L216.5 633.6 L218.0 631.6 L219.5 629.7 L221.0 628.0 L222.5 626.3 L224.0 624.7 L225.5 623.1 L227.0 621.5 L228.5 620.1 L230.0 618.7 L231.6 617.4 L233.1 616.3 L234.6 615.3 L236.1 614.4 L237.6 613.5 L239.1 612.6 L240.6 611.8 L242.1 611.0 L243.6 610.2 L245.1 609.5 L246.6 609.0 L248.1 608.5 L249.6 608.1 L251.1 607.8 L252.6 607.5 L254.1 607.3 L255.6 607.0 L257.1 606.8 L258.6 606.7 L260.1 606.5 L261.6 606.5 L263.1 606.4 L264.6 606.5 L266.1 606.6 L267.6 606.8 L269.1 607.0 L270.6 607.3 L272.1 607.6 L273.6 608.0 L275.1 608.4 L276.6 608.9 L278.1 609.4 L279.7 609.9 L281.2 610.4 L282.7 611.1 L284.2 611.8 L285.7 612.5 L287.2 613.4 L288.7 614.2 L290.2 615.1 L291.7 616.0 L293.2 616.9 L294.7 617.8 L296.2 618.7 L297.7 619.6 L299.2 620.5 L300.7 621.5 L302.2 622.4 L303.7 623.4 L305.2 624.4 L306.7 625.4 L308.2 626.3 L309.7 627.3 L311.2 628.3 L312.7 629.3 L314.2 630.3 L315.7 631.3 L317.2 632.3 L318.7 633.4 L320.2 634.4 L321.7 635.4 L323.2 636.5 L324.7 637.5 L326.3 638.5 L327.8 639.5 L329.3 640.5 L330.8 641.5 L332.3 642.5 L333.8 643.5 L335.3 644.5 L336.8 645.4 L338.3 646.4 L339.8 647.4 L341.3 648.4 L342.8 649.4 L344.3 650.4 L345.8 651.4 L347.3 652.5 L348.8 653.5 L350.3 654.5 L351.8 655.5 L353.3 656.5 L354.8 657.6 L356.3 658.5 L357.8 659.5 L359.3 660.5 L360.8 661.5 L362.3 662.5 L363.8 663.5 L365.3 664.5 L366.8 665.4 L368.3 666.4 L369.8 667.3 L371.3 668.2 L372.8 669.1 L374.4 669.9 L375.9 670.8 L377.4 671.6 L378.9 672.4 L380.4 673.2 L381.9 674.0 L383.4 674.8 L384.9 675.6 L386.4 676.3 L387.9 677.1 L389.4 677.8 L390.9 678.5 L392.4 679.2 L393.9 680.0 L395.4 680.7 L396.9 681.4 L398.4 682.1 L399.9 682.8 L401.4 683.5 L402.9 684.1 L404.4 684.7 L405.9 685.2 L407.4 685.7 L408.9 686.2 L410.4 686.7 L411.9 687.2 L413.4 687.6 L414.9 688.0 L416.4 688.4 L417.9 688.8 L419.4 689.2 L421.0 689.5 L422.5 689.8 L424.0 690.0 L425.5 690.2 L427.0 690.4 L428.5 690.6 L430.0 690.8 L431.5 691.0 L433.0 691.2 L434.5 691.4 L436.0 691.6 L437.5 691.7 L439.0 691.8 L440.5 691.9 L442.0 692.0 L443.5 692.1 L445.0 692.1 L446.5 692.1 L448.0 692.2 L449.5 692.2 L451.0 692.2 L452.5 692.2 L454.0 692.2 L455.5 692.1 L457.0 692.1 L458.5 692.1 L460.0 692.0 L461.5 691.9 L463.0 691.8 L464.5 691.7 L466.0 691.5 L467.5 691.3 L469.1 691.1 L470.6 690.9 L472.1 690.6 L473.6 690.4 L475.1 690.1 L476.6 689.9 L478.1 689.6 L479.6 689.3 L481.1 689.0 L482.6 688.6 L484.1 688.2 L485.6 687.9 L487.1 687.5 L488.6 687.0 L490.1 686.6 L491.6 686.2 L493.1 685.8 L494.6 685.4 L496.1 685.0 L497.6 684.6 L499.1 684.2 L500.6 683.7 L502.1 683.3 L503.6 682.9 L505.1 682.5 L506.6 682.0 L508.1 681.6 L509.6 681.2 L511.1 680.8 L512.6 680.4 L514.1 680.0 L515.6 679.6 L517.2 679.2 L518.7 678.8 L520.2 678.5 L521.7 678.1 L523.2 677.8 L524.7 677.4 L526.2 677.1 L527.7 676.7 L529.2 676.3 L530.7 675.9 L532.2 675.5 L533.7 675.1 L535.2 674.6 L536.7 674.2 L538.2 673.7 L539.7 673.1 L541.2 672.6 L542.7 672.0 L544.2 671.5 L545.7 670.9 L547.2 670.3 L548.7 669.7 L550.2 669.1 L551.7 668.5 L553.2 667.9 L554.7 667.2 L556.2 666.6 L557.7 666.0 L559.2 665.3 L560.7 664.7 L562.2 664.1 L563.8 663.4 L565.3 662.9 L566.8 662.3 L568.3 661.7 L569.8 661.2 L571.3 660.7 L572.8 660.1 L574.3 659.6 L575.8 659.1 L577.3 658.6 L578.8 658.0 L580.3 657.5 L581.8 657.0 L583.3 656.4 L584.8 655.9 L586.3 655.3 L587.8 654.7 L589.3 654.1 L590.8 653.4 L592.3 652.8 L593.8 652.2 L595.3 651.6 L596.8 651.1 L598.3 650.5 L599.8 650.0 L601.3 649.5 L602.8 649.0 L604.3 648.6 L605.8 648.2 L607.3 647.7 L608.8 647.3 L610.3 646.9 L611.9 646.6 L613.4 646.2 L614.9 645.8 L616.4 645.4 L617.9 645.0 L619.4 644.7 L620.9 644.3 L622.4 643.9 L623.9 643.5 L625.4 643.1 L626.9 642.8 L628.4 642.4 L629.9 642.1 L631.4 641.7 L632.9 641.3 L634.4 641.0" stroke="#9E480E" stroke-width="4.80" stroke-dasharray="33.60 19.20 0 19.20 0 19.20"/>
<path d="M159.4 662.5 L160.9 662.6 L162.4 662.7 L163.9 662.8 L165.4 662.9 L166.9 662.9 L168.4 663.0 L169.9 663.0 L171.4 663.0 L172.9 663.0 L174.4 663.0 L175.9 663.0 L177.4 662.9 L178.9 662.8 L180.4 662.6 L181.9 662.3 L183.5 662.1 L185.0 661.7 L186.5 661.4 L188.0 661.0 L189.5 660.5 L191.0 659.6 L192.5 658.6 L194.0 657.4 L195.5 656.1 L197.0 654.8 L198.5 653.6 L200.0 652.4 L201.5 651.1 L203.0 649.7 L204.5 648.3 L206.0 646.9 L207.5 645.5 L209.0 644.0 L210.5 642.6 L212.0 641.0 L213.5 639.5 L215.0 637.8 L216.5 636.1 L218.0 634.2 L219.5 631.9 L221.0 629.6 L222.5 627.2 L224.0 625.1 L225.5 623.4 L227.0 621.9 L228.5 620.5 L230.0 619.2 L231.6 617.9 L233.1 616.8 L234.6 615.8 L236.1 614.8 L237.6 613.9 L239.1 612.9 L240.6 612.1 L242.1 611.3 L243.6 610.6 L245.1 610.0 L246.6 609.5 L248.1 609.0 L249.6 608.5 L251.1 608.1 L252.6 607.7 L254.1 607.4 L255.6 607.2 L257.1 607.0 L258.6 606.8 L260.1 606.7 L261.6 606.6 L263.1 606.5 L264.6 606.6 L266.1 606.7 L267.6 606.9 L269.1 607.2 L270.6 607.5 L272.1 607.9 L273.6 608.3 L275.1 608.7 L276.6 609.1 L278.1 609.5 L279.7 610.0 L281.2 610.5 L282.7 611.0 L284.2 611.5 L285.7 612.0 L287.2 612.6 L288.7 613.1 L290.2 613.7 L291.7 614.2 L293.2 614.8 L294.7 615.3 L296.2 615.9 L297.7 616.5 L299.2 617.1 L300.7 617.7 L302.2 618.3 L303.7 618.9 L305.2 619.6 L306.7 620.3 L308.2 621.1 L309.7 621.8 L311.2 622.7 L312.7 623.6 L314.2 624.6 L315.7 625.6 L317.2 626.5 L318.7 627.4 L320.2 628.3 L321.7 629.2 L323.2 630.1 L324.7 631.0 L326.3 631.9 L327.8 632.7 L329.3 633.6 L330.8 634.4 L332.3 635.2 L333.8 636.0 L335.3 636.9 L336.8 637.6 L338.3 638.4 L339.8 639.2 L341.3 640.0 L342.8 640.8 L344.3 641.6 L345.8 642.4 L347.3 643.2 L348.8 644.0 L350.3 644.7 L351.8 645.5 L353.3 646.3 L354.8 647.1 L356.3 647.9 L357.8 648.7 L359.3 649.5 L360.8 650.3 L362.3 651.1 L363.8 651.9 L365.3 652.7 L366.8 653.5 L368.3 654.3 L369.8 655.1 L371.3 655.9 L372.8 656.7 L374.4 657.5 L375.9 658.3 L377.4 659.1 L378.9 659.9 L380.4 660.7 L381.9 661.5 L383.4 662.3 L384.9 663.1 L386.4 663.9 L387.9 664.8 L389.4 665.6 L390.9 666.4 L392.4 667.2 L393.9 668.0 L395.4 668.8 L396.9 669.5 L398.4 670.2 L399.9 670.8 L401.4 671.5 L402.9 672.1 L404.4 672.7 L405.9 673.3 L407.4 673.8 L408.9 674.4 L410.4 675.0 L411.9 675.5 L413.4 676.1 L414.9 676.6 L416.4 677.2 L417.9 677.7 L419.4 678.3 L421.0 678.8 L422.5 679.4 L424.0 680.0 L425.5 680.5 L427.0 681.1 L428.5 681.6 L430.0 682.1 L431.5 682.6 L433.0 683.2 L434.5 683.7 L436.0 684.2 L437.5 684.7 L439.0 685.1 L440.5 685.6 L442.0 686.1 L443.5 686.6 L445.0 687.0 L446.5 687.5 L448.0 687.9 L449.5 688.4 L451.0 688.8 L452.5 689.2 L454.0 689.6 L455.5 689.9 L457.0 690.3 L458.5 690.6 L460.0 691.0 L461.5 691.3 L463.0 691.7 L464.5 692.0 L466.0 692.3 L467.5 692.6 L469.1 692.9 L470.6 693.2 L472.1 693.5 L473.6 693.8 L475.1 694.1 L476.6 694.4 L478.1 694.6 L479.6 694.9 L481.1 695.2 L482.6 695.4 L484.1 695.7 L485.6 695.9 L487.1 696.2 L488.6 696.5 L490.1 696.7 L491.6 697.0 L493.1 697.2 L494.6 697.5 L496.1 697.7 L497.6 698.0 L499.1 698.2 L500.6 698.5 L502.1 698.7 L503.6 698.9 L505.1 699.2 L506.6 699.4 L508.1 699.7 L509.6 699.9 L511.1 700.2 L512.6 700.5 L514.1 700.7 L515.6 701.0 L517.2 701.2 L518.7 701.5 L520.2 701.8 L521.7 702.0 L523.2 702.3 L524.7 702.5 L526.2 702.8 L527.7 703.0 L529.2 703.3 L530.7 703.5 L532.2 703.7 L533.7 703.9 L535.2 704.2 L536.7 704.4 L538.2 704.6 L539.7 704.8 L541.2 705.0 L542.7 705.1 L544.2 705.3 L545.7 705.5 L547.2 705.7 L548.7 705.9 L550.2 706.1 L551.7 706.2 L553.2 706.4 L554.7 706.6 L556.2 706.7 L557.7 706.9 L559.2 707.0 L560.7 707.2 L562.2 707.3 L563.8 707.5 L565.3 707.7 L566.8 707.9 L568.3 708.0 L569.8 708.2 L571.3 708.4 L572.8 708.6 L574.3 708.8 L575.8 709.0 L577.3 709.2 L578.8 709.4 L580.3 709.6 L581.8 709.8 L583.3 710.0 L584.8 710.2 L586.3 710.4 L587.8 710.6 L589.3 710.8 L590.8 711.0 L592.3 711.3 L593.8 711.5 L595.3 711.7 L596.8 712.0 L598.3 712.2 L599.8 712.4 L601.3 712.6 L602.8 712.9 L604.3 713.1 L605.8 713.3 L607.3 713.5 L608.8 713.7 L610.3 713.9 L611.9 714.1 L613.4 714.3 L614.9 714.4 L616.4 714.6 L617.9 714.8 L619.4 715.0 L620.9 715.1 L622.4 715.3 L623.9 715.5 L625.4 715.6 L626.9 715.8 L628.4 716.0 L629.9 716.1 L631.4 716.2 L632.9 716.4 L634.4 716.5" stroke="#264478" stroke-width="4.80" stroke-dasharray="9.60 9.60"/>
<path d="M159.4 658.0 L160.9 656.7 L162.4 655.5 L163.9 654.3 L165.4 653.2 L166.9 652.1 L168.4 651.2 L169.9 650.3 L171.4 649.5 L172.9 648.7 L174.4 648.0 L175.9 647.2 L177.4 646.6 L178.9 645.9 L180.4 645.3 L181.9 644.7 L183.5 644.2 L185.0 643.7 L186.5 643.1 L188.0 642.6 L189.5 642.1 L191.0 641.7 L192.5 641.3 L194.0 640.9 L195.5 640.6 L197.0 640.3 L198.5 640.0 L200.0 639.7 L201.5 639.4 L203.0 639.1 L204.5 638.8 L206.0 638.6 L207.5 638.3 L209.0 638.1 L210.5 637.9 L212.0 637.8 L213.5 637.6 L215.0 637.4 L216.5 637.3 L218.0 637.1 L219.5 637.0 L221.0 636.9 L222.5 636.8 L224.0 636.7 L225.5 636.6 L227.0 636.6 L228.5 636.5 L230.0 636.5 L231.6 636.5 L233.1 636.6 L234.6 636.7 L236.1 636.8 L237.6 637.0 L239.1 637.1 L240.6 637.4 L242.1 637.6 L243.6 637.8 L245.1 638.1 L246.6 638.4 L248.1 638.6 L249.6 638.9 L251.1 639.2 L252.6 639.6 L254.1 640.0 L255.6 640.4 L257.1 640.9 L258.6 641.4 L260.1 641.9 L261.6 642.5 L263.1 643.0 L264.6 643.6 L266.1 644.2 L267.6 644.8 L269.1 645.4 L270.6 646.0 L272.1 646.7 L273.6 647.4 L275.1 648.1 L276.6 648.8 L278.1 649.5 L279.7 650.2 L281.2 650.9 L282.7 651.6 L284.2 652.2 L285.7 652.9 L287.2 653.6 L288.7 654.2 L290.2 654.9 L291.7 655.6 L293.2 656.2 L294.7 656.9 L296.2 657.6 L297.7 658.3 L299.2 659.1 L300.7 659.9 L302.2 660.7 L303.7 661.5 L305.2 662.4 L306.7 663.3 L308.2 664.2 L309.7 665.1 L311.2 666.0 L312.7 666.9 L314.2 667.8 L315.7 668.8 L317.2 669.7 L318.7 670.6 L320.2 671.5 L321.7 672.4 L323.2 673.3 L324.7 674.2 L326.3 675.1 L327.8 676.0 L329.3 676.9 L330.8 677.8 L332.3 678.7 L333.8 679.7 L335.3 680.6 L336.8 681.5 L338.3 682.4 L339.8 683.3 L341.3 684.2 L342.8 685.1 L344.3 686.1 L345.8 687.0 L347.3 687.9 L348.8 688.9 L350.3 689.8 L351.8 690.6 L353.3 691.5 L354.8 692.3 L356.3 693.1 L357.8 693.9 L359.3 694.7 L360.8 695.4 L362.3 696.1 L363.8 696.8 L365.3 697.5 L366.8 698.2 L368.3 698.9 L369.8 699.5 L371.3 700.1 L372.8 700.8 L374.4 701.3 L375.9 701.9 L377.4 702.5 L378.9 703.1 L380.4 703.6 L381.9 704.2 L383.4 704.7 L384.9 705.3 L386.4 705.8 L387.9 706.3 L389.4 706.8 L390.9 707.2 L392.4 707.7 L393.9 708.1 L395.4 708.6 L396.9 709.0 L398.4 709.4 L399.9 709.8 L401.4 710.2 L402.9 710.6 L404.4 711.0 L405.9 711.3 L407.4 711.7 L408.9 712.0 L410.4 712.4 L411.9 712.7 L413.4 713.0 L414.9 713.3 L416.4 713.6 L417.9 713.9 L419.4 714.2 L421.0 714.5 L422.5 714.8 L424.0 715.1 L425.5 715.4 L427.0 715.7 L428.5 715.9 L430.0 716.2 L431.5 716.4 L433.0 716.5 L434.5 716.7 L436.0 716.8 L437.5 716.9 L439.0 716.9 L440.5 716.9 L442.0 716.9 L443.5 716.9 L445.0 716.8 L446.5 716.7 L448.0 716.6 L449.5 716.5 L451.0 716.3 L452.5 716.1 L454.0 715.9 L455.5 715.7 L457.0 715.5 L458.5 715.3 L460.0 715.0 L461.5 714.8 L463.0 714.5 L464.5 714.3 L466.0 714.0 L467.5 713.8 L469.1 713.5 L470.6 713.2 L472.1 712.8 L473.6 712.5 L475.1 712.1 L476.6 711.7 L478.1 711.3 L479.6 710.9 L481.1 710.5 L482.6 710.1 L484.1 709.7 L485.6 709.2 L487.1 708.8 L488.6 708.4 L490.1 708.0 L491.6 707.5 L493.1 707.1 L494.6 706.6 L496.1 706.1 L497.6 705.7 L499.1 705.2 L500.6 704.7 L502.1 704.3 L503.6 703.8 L505.1 703.3 L506.6 702.8 L508.1 702.3 L509.6 701.8 L511.1 701.3 L512.6 700.8 L514.1 700.3 L515.6 699.8 L517.2 699.3 L518.7 698.8 L520.2 698.3 L521.7 697.8 L523.2 697.3 L524.7 696.8 L526.2 696.3 L527.7 695.8 L529.2 695.3 L530.7 694.8 L532.2 694.3 L533.7 693.8 L535.2 693.3 L536.7 692.8 L538.2 692.3 L539.7 691.8 L541.2 691.3 L542.7 690.8 L544.2 690.3 L545.7 689.8 L547.2 689.2 L548.7 688.7 L550.2 688.2 L551.7 687.7 L553.2 687.1 L554.7 686.6 L556.2 686.1 L557.7 685.5 L559.2 685.0 L560.7 684.4 L562.2 683.8 L563.8 683.2 L565.3 682.6 L566.8 682.0 L568.3 681.4 L569.8 680.8 L571.3 680.2 L572.8 679.6 L574.3 678.9 L575.8 678.3 L577.3 677.7 L578.8 677.1 L580.3 676.4 L581.8 675.8 L583.3 675.2 L584.8 674.6 L586.3 674.0 L587.8 673.4 L589.3 672.8 L590.8 672.2 L592.3 671.6 L593.8 671.0 L595.3 670.5 L596.8 669.9 L598.3 669.4 L599.8 668.8 L601.3 668.3 L602.8 667.7 L604.3 667.2 L605.8 666.6 L607.3 666.1 L608.8 665.6 L610.3 665.0 L611.9 664.5 L613.4 664.0 L614.9 663.5 L616.4 662.9 L617.9 662.4 L619.4 661.9 L620.9 661.4 L622.4 660.9 L623.9 660.4 L625.4 659.9 L626.9 659.4 L628.4 658.9 L629.9 658.4 L631.4 658.0 L632.9 657.5 L634.4 657.0" stroke="#656565" stroke-width="4.80"/>
<path d="M159.4 641.9 L160.9 642.9 L162.4 644.0 L163.9 645.0 L165.4 646.1 L166.9 647.1 L168.4 648.1 L169.9 649.1 L171.4 650.1 L172.9 651.2 L174.4 652.2 L175.9 653.2 L177.4 654.3 L178.9 655.4 L180.4 656.5 L181.9 657.7 L183.5 658.9 L185.0 660.1 L186.5 661.4 L188.0 662.7 L189.5 664.0 L191.0 665.3 L192.5 666.6 L194.0 667.9 L195.5 669.2 L197.0 670.7 L198.5 672.4 L200.0 674.6 L201.5 677.0 L203.0 679.4 L204.5 681.8 L206.0 684.3 L207.5 686.7 L209.0 689.0 L210.5 691.1 L212.0 693.1 L213.5 695.2 L215.0 697.6 L216.5 700.2 L218.0 702.6 L219.5 704.9 L221.0 706.9 L222.5 708.9 L224.0 710.8 L225.5 712.7 L227.0 714.5 L228.5 716.3 L230.0 718.0 L231.6 719.5 L233.1 720.9 L234.6 722.3 L236.1 723.5 L237.6 724.6 L239.1 725.6 L240.6 726.6 L242.1 727.6 L243.6 728.4 L245.1 729.2 L246.6 729.8 L248.1 730.3 L249.6 730.8 L251.1 731.3 L252.6 731.6 L254.1 732.0 L255.6 732.2 L257.1 732.3 L258.6 732.3 L260.1 732.4 L261.6 732.4 L263.1 732.3 L264.6 732.2 L266.1 732.1 L267.6 731.9 L269.1 731.7 L270.6 731.4 L272.1 731.0 L273.6 730.6 L275.1 730.2 L276.6 729.6 L278.1 728.9 L279.7 728.2 L281.2 727.4 L282.7 726.6 L284.2 725.8 L285.7 725.0 L287.2 724.1 L288.7 723.2 L290.2 722.3 L291.7 721.4 L293.2 720.4 L294.7 719.4 L296.2 718.4 L297.7 717.3 L299.2 716.2 L300.7 715.0 L302.2 713.9 L303.7 712.7 L305.2 711.5 L306.7 710.2 L308.2 709.0 L309.7 707.8 L311.2 706.5 L312.7 705.3 L314.2 704.0 L315.7 702.8 L317.2 701.6 L318.7 700.4 L320.2 699.2 L321.7 697.9 L323.2 696.7 L324.7 695.4 L326.3 694.2 L327.8 692.9 L329.3 691.6 L330.8 690.4 L332.3 689.1 L333.8 687.9 L335.3 686.6 L336.8 685.3 L338.3 684.0 L339.8 682.7 L341.3 681.4 L342.8 680.1 L344.3 678.8 L345.8 677.5 L347.3 676.3 L348.8 675.1 L350.3 673.9 L351.8 672.7 L353.3 671.5 L354.8 670.3 L356.3 669.1 L357.8 668.0 L359.3 666.8 L360.8 665.6 L362.3 664.4 L363.8 663.2 L365.3 662.0 L366.8 660.8 L368.3 659.7 L369.8 658.6 L371.3 657.6 L372.8 656.6 L374.4 655.6 L375.9 654.6 L377.4 653.6 L378.9 652.6 L380.4 651.7 L381.9 650.7 L383.4 649.8 L384.9 648.9 L386.4 648.0 L387.9 647.1 L389.4 646.3 L390.9 645.4 L392.4 644.7 L393.9 643.9 L395.4 643.1 L396.9 642.4 L398.4 641.7 L399.9 641.0 L401.4 640.4 L402.9 639.7 L404.4 639.1 L405.9 638.5 L407.4 637.9 L408.9 637.4 L410.4 636.9 L411.9 636.5 L413.4 636.0 L414.9 635.6 L416.4 635.3 L417.9 634.9 L419.4 634.5 L421.0 634.1 L422.5 633.8 L424.0 633.4 L425.5 633.1 L427.0 632.9 L428.5 632.7 L430.0 632.6 L431.5 632.5 L433.0 632.4 L434.5 632.4 L436.0 632.4 L437.5 632.5 L439.0 632.6 L440.5 632.7 L442.0 632.9 L443.5 633.1 L445.0 633.2 L446.5 633.4 L448.0 633.6 L449.5 633.8 L451.0 634.0 L452.5 634.2 L454.0 634.4 L455.5 634.7 L457.0 635.0 L458.5 635.4 L460.0 635.8 L461.5 636.3 L463.0 636.8 L464.5 637.3 L466.0 637.8 L467.5 638.2 L469.1 638.7 L470.6 639.1 L472.1 639.6 L473.6 640.0 L475.1 640.5 L476.6 641.0 L478.1 641.6 L479.6 642.2 L481.1 642.8 L482.6 643.4 L484.1 644.0 L485.6 644.7 L487.1 645.5 L488.6 646.2 L490.1 647.0 L491.6 647.8 L493.1 648.5 L494.6 649.3 L496.1 650.0 L497.6 650.7 L499.1 651.4 L500.6 652.1 L502.1 652.8 L503.6 653.5 L505.1 654.3 L506.6 655.1 L508.1 655.8 L509.6 656.6 L511.1 657.4 L512.6 658.2 L514.1 659.0 L515.6 659.8 L517.2 660.7 L518.7 661.5 L520.2 662.4 L521.7 663.3 L523.2 664.2 L524.7 665.1 L526.2 666.0 L527.7 666.9 L529.2 667.7 L530.7 668.6 L532.2 669.4 L533.7 670.2 L535.2 671.1 L536.7 672.0 L538.2 673.0 L539.7 673.9 L541.2 674.9 L542.7 675.8 L544.2 676.7 L545.7 677.7 L547.2 678.6 L548.7 679.5 L550.2 680.4 L551.7 681.3 L553.2 682.3 L554.7 683.3 L556.2 684.2 L557.7 685.2 L559.2 686.3 L560.7 687.3 L562.2 688.3 L563.8 689.4 L565.3 690.4 L566.8 691.5 L568.3 692.5 L569.8 693.5 L571.3 694.5 L572.8 695.4 L574.3 696.4 L575.8 697.4 L577.3 698.4 L578.8 699.4 L580.3 700.5 L581.8 701.5 L583.3 702.5 L584.8 703.5 L586.3 704.4 L587.8 705.2 L589.3 706.1 L590.8 706.9 L592.3 707.8 L593.8 708.8 L595.3 709.7 L596.8 710.7 L598.3 711.6 L599.8 712.6 L601.3 713.5 L602.8 714.4 L604.3 715.3 L605.8 716.1 L607.3 717.0 L608.8 717.9 L610.3 718.8 L611.9 719.7 L613.4 720.6 L614.9 721.6 L616.4 722.4 L617.9 723.3 L619.4 724.1 L620.9 724.9 L622.4 725.7 L623.9 726.5 L625.4 727.3 L626.9 728.0 L628.4 728.8 L629.9 729.5 L631.4 730.2 L632.9 730.9 L634.4 731.6" stroke="#997300" stroke-width="4.80" stroke-dasharray="0 9.60"/>
<path d="M159.4 652.5 L160.9 653.0 L162.4 653.4 L163.9 653.9 L165.4 654.3 L166.9 654.7 L168.4 655.1 L169.9 655.5 L171.4 655.8 L172.9 656.1 L174.4 656.4 L175.9 656.6 L177.4 656.9 L178.9 657.1 L180.4 657.3 L181.9 657.5 L183.5 657.7 L185.0 657.8 L186.5 657.9 L188.0 658.0 L189.5 658.0 L191.0 658.0 L192.5 657.9 L194.0 657.8 L195.5 657.5 L197.0 657.1 L198.5 656.7 L200.0 656.2 L201.5 655.7 L203.0 655.1 L204.5 654.5 L206.0 653.9 L207.5 653.2 L209.0 652.4 L210.5 651.4 L212.0 650.4 L213.5 649.3 L215.0 648.2 L216.5 647.2 L218.0 646.1 L219.5 645.2 L221.0 644.4 L222.5 643.7 L224.0 643.2 L225.5 642.6 L227.0 642.1 L228.5 641.7 L230.0 641.2 L231.6 640.8 L233.1 640.5 L234.6 640.2 L236.1 639.9 L237.6 639.6 L239.1 639.4 L240.6 639.2 L242.1 639.0 L243.6 638.8 L245.1 638.6 L246.6 638.4 L248.1 638.3 L249.6 638.2 L251.1 638.1 L252.6 638.0 L254.1 638.0 L255.6 638.0 L257.1 638.1 L258.6 638.3 L260.1 638.5 L261.6 638.7 L263.1 639.0 L264.6 639.4 L266.1 639.7 L267.6 640.1 L269.1 640.5 L270.6 641.0 L272.1 641.4 L273.6 641.9 L275.1 642.5 L276.6 643.1 L278.1 643.8 L279.7 644.5 L281.2 645.2 L282.7 646.0 L284.2 646.8 L285.7 647.5 L287.2 648.3 L288.7 649.0 L290.2 649.8 L291.7 650.6 L293.2 651.4 L294.7 652.2 L296.2 653.1 L297.7 653.9 L299.2 654.8 L300.7 655.8 L302.2 656.7 L303.7 657.7 L305.2 658.8 L306.7 659.9 L308.2 661.0 L309.7 662.1 L311.2 663.3 L312.7 664.4 L314.2 665.5 L315.7 666.5 L317.2 667.5 L318.7 668.5 L320.2 669.5 L321.7 670.5 L323.2 671.5 L324.7 672.5 L326.3 673.5 L327.8 674.5 L329.3 675.5 L330.8 676.5 L332.3 677.5 L333.8 678.6 L335.3 679.6 L336.8 680.6 L338.3 681.7 L339.8 682.7 L341.3 683.6 L342.8 684.6 L344.3 685.5 L345.8 686.4 L347.3 687.2 L348.8 688.1 L350.3 688.9 L351.8 689.7 L353.3 690.5 L354.8 691.3 L356.3 692.1 L357.8 692.9 L359.3 693.7 L360.8 694.5 L362.3 695.3 L363.8 696.1 L365.3 696.8 L366.8 697.6 L368.3 698.4 L369.8 699.1 L371.3 699.8 L372.8 700.5 L374.4 701.2 L375.9 701.9 L377.4 702.6 L378.9 703.2 L380.4 703.9 L381.9 704.5 L383.4 705.2 L384.9 705.8 L386.4 706.4 L387.9 707.0 L389.4 707.5 L390.9 708.1 L392.4 708.7 L393.9 709.2 L395.4 709.8 L396.9 710.3 L398.4 710.9 L399.9 711.4 L401.4 711.8 L402.9 712.3 L404.4 712.7 L405.9 713.0 L407.4 713.4 L408.9 713.7 L410.4 714.0 L411.9 714.3 L413.4 714.6 L414.9 714.9 L416.4 715.1 L417.9 715.3 L419.4 715.5 L421.0 715.6 L422.5 715.7 L424.0 715.8 L425.5 715.9 L427.0 715.9 L428.5 716.0 L430.0 716.0 L431.5 716.1 L433.0 716.1 L434.5 716.1 L436.0 716.1 L437.5 716.0 L439.0 716.0 L440.5 715.9 L442.0 715.7 L443.5 715.6 L445.0 715.4 L446.5 715.1 L448.0 714.9 L449.5 714.6 L451.0 714.3 L452.5 714.0 L454.0 713.7 L455.5 713.4 L457.0 713.0 L458.5 712.6 L460.0 712.1 L461.5 711.6 L463.0 711.0 L464.5 710.4 L466.0 709.9 L467.5 709.3 L469.1 708.7 L470.6 708.2 L472.1 707.6 L473.6 707.1 L475.1 706.6 L476.6 706.0 L478.1 705.5 L479.6 705.0 L481.1 704.4 L482.6 703.8 L484.1 703.2 L485.6 702.6 L487.1 702.0 L488.6 701.3 L490.1 700.5 L491.6 699.7 L493.1 698.9 L494.6 698.1 L496.1 697.2 L497.6 696.4 L499.1 695.5 L500.6 694.7 L502.1 693.9 L503.6 693.2 L505.1 692.5 L506.6 691.8 L508.1 691.2 L509.6 690.5 L511.1 689.9 L512.6 689.2 L514.1 688.5 L515.6 687.7 L517.2 686.9 L518.7 686.1 L520.2 685.1 L521.7 684.2 L523.2 683.1 L524.7 682.1 L526.2 681.1 L527.7 680.1 L529.2 679.1 L530.7 678.2 L532.2 677.3 L533.7 676.5 L535.2 675.7 L536.7 674.9 L538.2 674.2 L539.7 673.4 L541.2 672.6 L542.7 671.9 L544.2 671.0 L545.7 670.2 L547.2 669.3 L548.7 668.3 L550.2 667.2 L551.7 666.1 L553.2 665.0 L554.7 663.8 L556.2 662.7 L557.7 661.6 L559.2 660.5 L560.7 659.5 L562.2 658.5 L563.8 657.6 L565.3 656.6 L566.8 655.7 L568.3 654.7 L569.8 653.8 L571.3 652.9 L572.8 652.0 L574.3 651.1 L575.8 650.1 L577.3 649.2 L578.8 648.2 L580.3 647.3 L581.8 646.3 L583.3 645.4 L584.8 644.4 L586.3 643.5 L587.8 642.6 L589.3 641.7 L590.8 640.9 L592.3 640.0 L593.8 639.2 L595.3 638.4 L596.8 637.6 L598.3 636.7 L599.8 635.9 L601.3 635.0 L602.8 634.2 L604.3 633.2 L605.8 632.2 L607.3 631.2 L608.8 630.1 L610.3 629.0 L611.9 627.9 L613.4 626.8 L614.9 625.9 L616.4 625.0 L617.9 624.2 L619.4 623.5 L620.9 622.8 L622.4 622.2 L623.9 621.5 L625.4 620.9 L626.9 620.4 L628.4 619.9 L629.9 619.5 L631.4 619.1 L632.9 618.8 L634.4 618.5" stroke="#43682B" stroke-width="4.80" stroke-dasharray="14.40 19.20"/>
</g>
<g font-family="&quot;Liberation Serif&quot;, serif" fill="#000" style="font-kerning:none"><text x="134.6" y="15.0" font-size="20.8" font-weight="bold" text-anchor="start" textLength="90.0" lengthAdjust="spacingAndGlyphs">TARC 1,2</text><text x="341.5" y="15.0" font-size="20.8" font-weight="bold" text-anchor="start" textLength="90.0" lengthAdjust="spacingAndGlyphs">TARC 1,3</text><text x="550.0" y="15.0" font-size="20.8" font-weight="bold" text-anchor="start" textLength="90.0" lengthAdjust="spacingAndGlyphs">TARC 1,4</text><text x="134.6" y="43.2" font-size="20.8" font-weight="bold" text-anchor="start" textLength="90.0" lengthAdjust="spacingAndGlyphs">TARC 2,1</text><text x="341.5" y="43.2" font-size="20.8" font-weight="bold" text-anchor="start" textLength="90.0" lengthAdjust="spacingAndGlyphs">TARC 2,3</text><text x="550.0" y="43.2" font-size="20.8" font-weight="bold" text-anchor="start" textLength="90.0" lengthAdjust="spacingAndGlyphs">TARC 2,4</text><text x="81.0" y="73.4" font-size="22.0" font-weight="bold" text-anchor="end">0</text><text x="81.0" y="149.2" font-size="22.0" font-weight="bold" text-anchor="end">-10</text><text x="81.0" y="224.9" font-size="22.0" font-weight="bold" text-anchor="end">-20</text><text x="81.0" y="300.7" font-size="22.0" font-weight="bold" text-anchor="end">-30</text><text x="100.0" y="326.3" font-size="21.5" font-weight="bold" text-anchor="middle">1</text><text x="166.6" y="326.3" font-size="21.5" font-weight="bold" text-anchor="middle">2</text><text x="233.2" y="326.3" font-size="21.5" font-weight="bold" text-anchor="middle">3</text><text x="299.7" y="326.3" font-size="21.5" font-weight="bold" text-anchor="middle">4</text><text x="366.3" y="326.3" font-size="21.5" font-weight="bold" text-anchor="middle">5</text><text x="432.9" y="326.3" font-size="21.5" font-weight="bold" text-anchor="middle">6</text><text x="499.5" y="326.3" font-size="21.5" font-weight="bold" text-anchor="middle">7</text><text x="566.1" y="326.3" font-size="21.5" font-weight="bold" text-anchor="middle">8</text><text x="632.6" y="326.3" font-size="21.5" font-weight="bold" text-anchor="middle">9</text><text x="280.6" y="360.8" font-size="24.2" font-weight="bold" text-anchor="start" textLength="178.5" lengthAdjust="spacingAndGlyphs">Frequency (GHz)</text><text x="367.5" y="395.0" font-size="24.5" font-weight="normal" text-anchor="middle">(a)</text><text transform="translate(27.8 242.2) rotate(-90)" font-size="24.5" font-weight="bold" textLength="117.5" lengthAdjust="spacingAndGlyphs">TARC (dB)</text><text x="132.2" y="456.0" font-size="25.8" font-weight="bold" text-anchor="start" textLength="87.5" lengthAdjust="spacingAndGlyphs">CCL 1,2</text><text x="342.2" y="456.0" font-size="25.8" font-weight="bold" text-anchor="start" textLength="87.5" lengthAdjust="spacingAndGlyphs">CCL 1,3</text><text x="551.3" y="456.0" font-size="25.8" font-weight="bold" text-anchor="start" textLength="87.5" lengthAdjust="spacingAndGlyphs">CCL 1,4</text><text x="132.2" y="492.6" font-size="25.8" font-weight="bold" text-anchor="start" textLength="87.5" lengthAdjust="spacingAndGlyphs">CCL 2,1</text><text x="342.2" y="492.6" font-size="25.8" font-weight="bold" text-anchor="start" textLength="87.5" lengthAdjust="spacingAndGlyphs">CCL 2,3</text><text x="551.3" y="492.6" font-size="25.8" font-weight="bold" text-anchor="start" textLength="87.5" lengthAdjust="spacingAndGlyphs">CCL 2,4</text><text x="77.5" y="517.9" font-size="25.0" font-weight="bold" text-anchor="end">0.3</text><text x="77.5" y="601.5" font-size="25.0" font-weight="bold" text-anchor="end">0.2</text><text x="77.5" y="685.1" font-size="25.0" font-weight="bold" text-anchor="end">0.1</text><text x="77.5" y="768.7" font-size="25.0" font-weight="bold" text-anchor="end">0</text><text x="100.6" y="798.6" font-size="25.0" font-weight="bold" text-anchor="middle">1</text><text x="167.3" y="798.6" font-size="25.0" font-weight="bold" text-anchor="middle">2</text><text x="234.1" y="798.6" font-size="25.0" font-weight="bold" text-anchor="middle">3</text><text x="300.8" y="798.6" font-size="25.0" font-weight="bold" text-anchor="middle">4</text><text x="367.5" y="798.6" font-size="25.0" font-weight="bold" text-anchor="middle">5</text><text x="434.2" y="798.6" font-size="25.0" font-weight="bold" text-anchor="middle">6</text><text x="501.0" y="798.6" font-size="25.0" font-weight="bold" text-anchor="middle">7</text><text x="567.7" y="798.6" font-size="25.0" font-weight="bold" text-anchor="middle">8</text><text x="634.4" y="798.6" font-size="25.0" font-weight="bold" text-anchor="middle">9</text><text x="279.6" y="833.8" font-size="24.4" font-weight="bold" text-anchor="start" textLength="180.5" lengthAdjust="spacingAndGlyphs">Frequency (GHz)</text><text x="369.5" y="871.4" font-size="25.5" font-weight="normal" text-anchor="middle">(b)</text><text transform="translate(17.2 710.5) rotate(-90)" font-size="25.5" font-weight="bold" textLength="163" lengthAdjust="spacingAndGlyphs">CCL (bits/s/Hz)</text></g>
</svg>
</body></html>
